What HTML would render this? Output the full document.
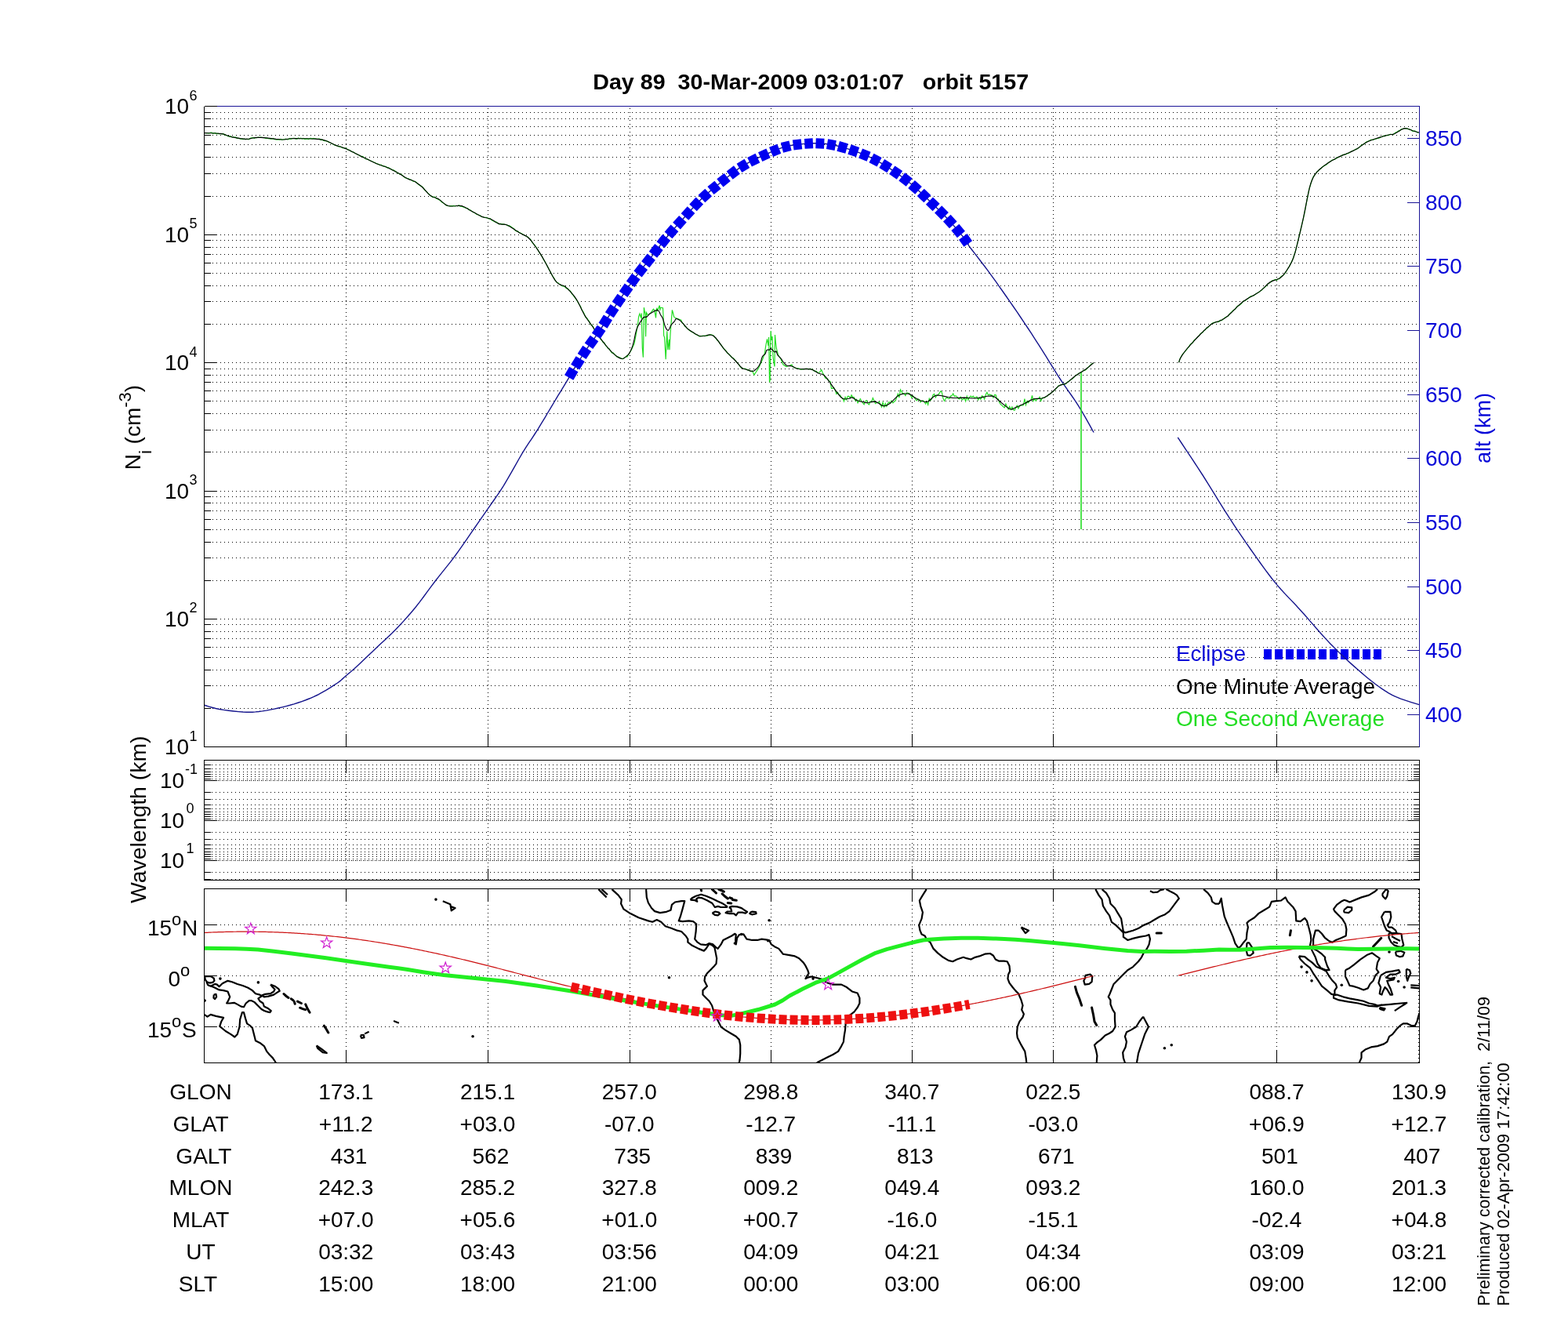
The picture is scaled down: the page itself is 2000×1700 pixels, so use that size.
<!DOCTYPE html><html><head><meta charset="utf-8"><title>Day 89 30-Mar-2009 orbit 5157</title>
<style>html,body{margin:0;padding:0;background:#fff;}svg{display:block;}text{font-family:'Liberation Sans', Arial, Helvetica, sans-serif;white-space:pre;}</style></head><body>
<svg width="2000" height="1700" viewBox="0 0 2000 1700">
<rect width="2000" height="1700" fill="#fff"/>
<text x="756.2" y="114" font-size="28" font-weight="bold" textLength="556" lengthAdjust="spacingAndGlyphs">Day 89  30-Mar-2009 03:01:07   orbit 5157</text>
<path d="M260.5,903.5 H1810.5 M260.5,874.5 H1810.5 M260.5,854.5 H1810.5 M260.5,838.5 H1810.5 M260.5,825.5 H1810.5 M260.5,814.5 H1810.5 M260.5,805.5 H1810.5 M260.5,796.5 H1810.5 M260.5,789.5 H1810.5 M260.5,740.5 H1810.5 M260.5,711.5 H1810.5 M260.5,691.5 H1810.5 M260.5,675.5 H1810.5 M260.5,662.5 H1810.5 M260.5,651.5 H1810.5 M260.5,641.5 H1810.5 M260.5,633.5 H1810.5 M260.5,626.5 H1810.5 M260.5,576.5 H1810.5 M260.5,548.5 H1810.5 M260.5,527.5 H1810.5 M260.5,511.5 H1810.5 M260.5,498.5 H1810.5 M260.5,487.5 H1810.5 M260.5,478.5 H1810.5 M260.5,470.5 H1810.5 M260.5,462.5 H1810.5 M260.5,413.5 H1810.5 M260.5,384.5 H1810.5 M260.5,364.5 H1810.5 M260.5,348.5 H1810.5 M260.5,335.5 H1810.5 M260.5,324.5 H1810.5 M260.5,315.5 H1810.5 M260.5,306.5 H1810.5 M260.5,299.5 H1810.5 M260.5,250.5 H1810.5 M260.5,221.5 H1810.5 M260.5,200.5 H1810.5 M260.5,184.5 H1810.5 M260.5,172.5 H1810.5 M260.5,161.5 H1810.5 M260.5,151.5 H1810.5 M260.5,143.5 H1810.5 M260.5,135.5 H1810.5" stroke="#000" stroke-width="1" stroke-dasharray="1 4" fill="none" shape-rendering="crispEdges"/>
<path d="M441.5,135.5 V952.5 M622.5,135.5 V952.5 M803.5,135.5 V952.5 M983.5,135.5 V952.5 M1163.5,135.5 V952.5 M1343.5,135.5 V952.5 M1628.5,135.5 V952.5" stroke="#000" stroke-width="1" stroke-dasharray="1 4" stroke-dashoffset="-2" fill="none" shape-rendering="crispEdges"/>
<path d="M260.5,952.5 h16 M260.5,903.5 h8 M260.5,874.5 h8 M260.5,854.5 h8 M260.5,838.5 h8 M260.5,825.5 h8 M260.5,814.5 h8 M260.5,805.5 h8 M260.5,796.5 h8 M260.5,789.5 h16 M260.5,740.5 h8 M260.5,711.5 h8 M260.5,691.5 h8 M260.5,675.5 h8 M260.5,662.5 h8 M260.5,651.5 h8 M260.5,641.5 h8 M260.5,633.5 h8 M260.5,626.5 h16 M260.5,576.5 h8 M260.5,548.5 h8 M260.5,527.5 h8 M260.5,511.5 h8 M260.5,498.5 h8 M260.5,487.5 h8 M260.5,478.5 h8 M260.5,470.5 h8 M260.5,462.5 h16 M260.5,413.5 h8 M260.5,384.5 h8 M260.5,364.5 h8 M260.5,348.5 h8 M260.5,335.5 h8 M260.5,324.5 h8 M260.5,315.5 h8 M260.5,306.5 h8 M260.5,299.5 h16 M260.5,250.5 h8 M260.5,221.5 h8 M260.5,200.5 h8 M260.5,184.5 h8 M260.5,172.5 h8 M260.5,161.5 h8 M260.5,151.5 h8 M260.5,143.5 h8 M260.5,135.5 h16 M441.5,952.5 V935.5 M622.5,952.5 V935.5 M803.5,952.5 V935.5 M983.5,952.5 V935.5 M1163.5,952.5 V935.5 M1343.5,952.5 V935.5 M1628.5,952.5 V935.5" stroke="#000" stroke-width="1" fill="none" shape-rendering="crispEdges"/>
<text x="1500" y="843" font-size="28" fill="#0808d8" textLength="89" lengthAdjust="spacingAndGlyphs">Eclipse</text>
<path d="M1612,834.5 H1762" stroke="#0000f0" stroke-width="13" stroke-dasharray="10 4" fill="none"/>
<text x="1500" y="885" font-size="28" textLength="254" lengthAdjust="spacingAndGlyphs">One Minute Average</text>
<text x="1500" y="926" font-size="28" fill="#22dd22" textLength="266" lengthAdjust="spacingAndGlyphs">One Second Average</text>
<path d="M260.5,899.25 L262.98,899.99 L266.39,901.06 L270.51,902.27 L275.12,903.48 L280,904.5 L285.49,905.38 L291.72,906.22 L298.22,906.97 L304.47,907.58 L310,908 L314.56,908.22 L318.48,908.28 L322.12,908.18 L325.84,907.92 L330,907.5 L334.68,906.89 L339.64,906.1 L344.76,905.15 L349.92,904.11 L355,903 L360,901.85 L365,900.62 L370,899.29 L375,897.84 L380,896.25 L385,894.54 L390,892.72 L395,890.77 L400,888.62 L405,886.25 L410.22,883.48 L415.67,880.33 L421.01,877.08 L425.9,873.96 L430,871.25 L433.05,869.08 L435.26,867.27 L437.06,865.62 L438.83,863.93 L441,862 L443.43,859.96 L445.86,857.96 L448.46,855.78 L451.45,853.2 L455,850 L459.3,846 L464.21,841.35 L469.47,836.31 L474.82,831.19 L480,826.25 L485,821.57 L490,816.95 L495,812.31 L500,807.52 L505,802.5 L510,797.26 L515,791.86 L520,786.28 L525,780.5 L530,774.5 L535,768.16 L540,761.51 L545,754.69 L550,747.89 L555,741.25 L560,734.87 L565,728.63 L570,722.42 L575,716.08 L580,709.5 L585.14,702.41 L590.42,694.89 L595.63,687.35 L600.56,680.17 L605,673.75 L608.72,668.41 L611.87,663.89 L614.78,659.7 L617.78,655.37 L621.2,650.4 L625.08,644.84 L629.19,639.02 L633.48,632.87 L637.9,626.32 L642.4,619.3 L647.09,611.47 L652,602.88 L656.98,594.04 L661.83,585.47 L666.4,577.7 L670.59,570.98 L674.52,564.97 L678.32,559.28 L682.13,553.51 L686.1,547.3 L690.29,540.48 L694.61,533.3 L698.95,526 L703.22,518.82 L707.3,512 L711.39,505.23 L715.57,498.34 L719.53,491.81 L723.01,486.08 L725.7,481.6 L727.16,479.1 L727.57,478.27 L727.62,478.04 L728.01,477.31 L729.4,475 L732.03,470.72 L735.43,465.2 L739.29,459.01 L743.25,452.75 L747,447 L750.53,441.86 L754.07,436.93 L757.62,432.07 L761.16,427.14 L764.7,422 L768.1,416.75 L771.36,411.5 L774.69,406.07 L778.3,400.29 L782.4,394 L787.22,386.84 L792.61,378.93 L798.24,370.79 L803.75,362.94 L808.8,355.9 L813.29,349.86 L817.46,344.46 L821.44,339.44 L825.37,334.51 L829.4,329.4 L833.47,324.12 L837.5,318.84 L841.55,313.56 L845.69,308.28 L850,303 L854.51,297.68 L859.19,292.34 L863.96,287 L868.75,281.71 L873.5,276.5 L878.15,271.36 L882.76,266.25 L887.38,261.22 L892.11,256.29 L897,251.5 L902.16,246.82 L907.53,242.24 L912.97,237.78 L918.34,233.49 L923.5,229.4 L928.3,225.55 L932.83,221.9 L937.31,218.42 L941.96,215.07 L947,211.8 L952.56,208.59 L958.51,205.46 L964.63,202.45 L970.7,199.62 L976.5,197 L981.95,194.56 L987.18,192.28 L992.34,190.2 L997.56,188.36 L1003,186.8 L1008.74,185.55 L1014.7,184.58 L1020.72,183.85 L1026.67,183.34 L1032.4,183 L1037.83,182.81 L1043.04,182.8 L1048.18,183 L1053.39,183.46 L1058.8,184.2 L1064.5,185.29 L1070.4,186.69 L1076.37,188.33 L1082.28,190.13 L1088,192 L1093.5,193.92 L1098.87,195.93 L1104.15,198.09 L1109.41,200.43 L1114.7,203 L1120.06,205.85 L1125.46,208.95 L1130.83,212.23 L1136.1,215.6 L1141.2,219 L1146.09,222.38 L1150.82,225.79 L1155.44,229.29 L1160.05,232.94 L1164.7,236.8 L1169.4,240.91 L1174.1,245.22 L1178.79,249.68 L1183.49,254.23 L1188.2,258.8 L1192.94,263.37 L1197.71,267.99 L1202.47,272.68 L1207.18,277.48 L1211.8,282.4 L1216.62,287.84 L1221.66,293.79 L1226.5,299.65 L1230.69,304.84 L1233.8,308.8 L1235.17,310.74 L1235.07,311.04 L1234.53,310.88 L1234.53,311.41 L1236.1,313.8 L1239.6,318.49 L1244.38,324.69 L1249.85,331.76 L1255.45,339.05 L1260.6,345.9 L1265.28,352.3 L1269.87,358.67 L1274.41,365.05 L1278.94,371.48 L1283.5,378 L1288.1,384.6 L1292.7,391.26 L1297.3,397.97 L1301.9,404.75 L1306.5,411.6 L1311.09,418.51 L1315.67,425.49 L1320.24,432.54 L1324.82,439.64 L1329.4,446.8 L1333.98,454.09 L1338.56,461.52 L1343.13,468.97 L1347.71,476.33 L1352.3,483.5 L1356.94,490.41 L1361.65,497.12 L1366.33,503.75 L1370.9,510.38 L1375.3,517.1 L1379.78,524.48 L1384.4,532.45 L1388.76,540.18 L1392.46,546.81 L1395.1,551.5 M1502.3,557.9 L1506.69,564.5 L1512.87,573.78 L1520.11,584.67 L1527.63,596.1 L1534.7,607 L1541.33,617.52 L1548.02,628.36 L1554.74,639.32 L1561.48,650.17 L1568.2,660.7 L1575.02,671.04 L1581.96,681.35 L1588.84,691.41 L1595.51,701 L1601.8,709.9 L1607.56,717.97 L1612.9,725.36 L1618.05,732.28 L1623.21,738.96 L1628.6,745.6 L1634.19,752.03 L1639.82,758.12 L1645.56,764.11 L1651.47,770.28 L1657.6,776.9 L1664.21,784.32 L1671.25,792.37 L1678.35,800.5 L1685.13,808.19 L1691.2,814.9 L1696.38,820.42 L1700.93,825.09 L1705.12,829.25 L1709.21,833.22 L1713.5,837.3 L1717.98,841.5 L1722.46,845.61 L1726.94,849.63 L1731.42,853.56 L1735.9,857.4 L1740.36,861.19 L1744.82,864.93 L1749.28,868.57 L1753.74,872.04 L1758.2,875.3 L1762.56,878.32 L1766.82,881.15 L1771.13,883.8 L1775.67,886.31 L1780.6,888.7 L1786.5,891.08 L1793.27,893.42 L1800.02,895.58 L1805.89,897.39 L1810,898.7" stroke="#14148c" stroke-width="1.4" fill="none"/>
<path d="M260.5,169.23 L262.1,169.71 L263.7,169.5 L265.3,169.88 L266.9,169.95 L268.5,169.22 L270.1,169.19 L271.7,170.4 L273.3,169.64 L274.9,169.66 L276.5,170.81 L278.1,170.2 L279.7,170.83 L281.3,170.44 L282.9,170.79 L284.5,170.48 L286.1,171.55 L287.7,172.47 L289.3,172.77 L290.9,173.63 L292.5,174.07 L294.1,173.62 L295.7,174.94 L297.3,175.04 L298.9,174.98 L300.5,174.9 L302.1,176.36 L303.7,176.1 L305.3,176.73 L306.9,177.22 L308.5,177.18 L310.1,177.65 L311.7,177.1 L313.3,177.8 L314.9,177.21 L316.5,177.8 L318.1,177.53 L319.7,176.07 L321.3,175.75 L322.9,175.58 L324.5,176.34 L326.1,175.44 L327.7,175.61 L329.3,175.1 L330.9,175.37 L332.5,175.21 L334.1,175.24 L335.7,175.65 L337.3,175.75 L338.9,176.37 L340.5,176.23 L342.1,176.75 L343.7,176.83 L345.3,177.21 L346.9,176.97 L348.5,176.46 L350.1,177.64 L351.7,177.99 L353.3,178.06 L354.9,177.73 L356.5,178.08 L358.1,177.52 L359.7,178.44 L361.3,178.01 L362.9,177.54 L364.5,177.03 L366.1,177.86 L367.7,177.83 L369.3,176.4 L370.9,177.23 L372.5,176.65 L374.1,176.25 L375.7,176.42 L377.3,177.06 L378.9,177.21 L380.5,176.05 L382.1,176.85 L383.7,176.06 L385.3,177.02 L386.9,176.5 L388.5,177.29 L390.1,177.46 L391.7,176.83 L393.3,177.56 L394.9,176.63 L396.5,176.35 L398.1,177.14 L399.7,176.42 L401.3,176.72 L402.9,177.11 L404.5,177.54 L406.1,177.04 L407.7,177.07 L409.3,178.46 L410.9,177.95 L412.5,179.24 L414.1,179.58 L415.7,179.39 L417.3,180.08 L418.9,180.86 L420.5,181.74 L422.1,182.45 L423.7,183.2 L425.3,184.07 L426.9,185.25 L428.5,185.38 L430.1,185.87 L431.7,186.8 L433.3,186.62 L434.9,187.16 L436.5,188.58 L438.1,188.54 L439.7,189.18 L441.3,189.06 L442.9,190.38 L444.5,191.36 L446.1,191.33 L447.7,192.92 L449.3,193.74 L450.9,193.74 L452.5,195.34 L454.1,195.92 L455.7,197.02 L457.3,197.36 L458.9,198.65 L460.5,199.49 L462.1,199.28 L463.7,200.13 L465.3,201.78 L466.9,202.96 L468.5,202.75 L470.1,203.82 L471.7,204.79 L473.3,205.19 L474.9,206.03 L476.5,206.7 L478.1,207.5 L479.7,208.54 L481.3,208.83 L482.9,209.53 L484.5,210.68 L486.1,210.21 L487.7,211.48 L489.3,212.22 L490.9,212.17 L492.5,212.66 L494.1,214.08 L495.7,213.97 L497.3,214.68 L498.9,215.81 L500.5,216.95 L502.1,216.97 L503.7,218.14 L505.3,219.01 L506.9,220.58 L508.5,220.92 L510.1,222.4 L511.7,222.38 L513.3,223.63 L514.9,225.14 L516.5,226.62 L518.1,226.99 L519.7,227.5 L521.3,228.01 L522.9,229.18 L524.5,229.25 L526.1,230.72 L527.7,231.49 L529.3,231.35 L530.9,232.48 L532.5,234.25 L534.1,235.21 L535.7,236.63 L537.3,237.34 L538.9,238.4 L540.5,240.3 L542.1,242.7 L543.7,243.82 L545.3,245.79 L546.9,247.49 L548.5,249.01 L550.1,250.03 L551.7,251.55 L553.3,251.07 L554.9,251.32 L556.5,253.19 L558.1,253.76 L559.7,254.81 L561.3,255.23 L562.9,257.21 L564.5,258.57 L566.1,258.93 L567.7,260.81 L569.3,261.99 L570.9,262.39 L572.5,262.62 L574.1,262.55 L575.7,262.71 L577.3,262.6 L578.9,262.27 L580.5,262.9 L582.1,262.31 L583.7,262.87 L585.3,261.7 L586.9,263.02 L588.5,262.84 L590.1,263.64 L591.7,264.25 L593.3,264.98 L594.9,265.48 L596.5,265.65 L598.1,267.62 L599.7,267.77 L601.3,268.89 L602.9,270.27 L604.5,270.96 L606.1,271.69 L607.7,273.3 L609.3,273.72 L610.9,274.2 L612.5,274.85 L614.1,276.47 L615.7,276.58 L617.3,277.49 L618.9,277.33 L620.5,277.39 L622.1,278.19 L623.7,279.06 L625.3,278.7 L626.9,280.42 L628.5,281.46 L630.1,282.24 L631.7,283.25 L633.3,283.06 L634.9,284.73 L636.5,285.86 L638.1,285.15 L639.7,285.73 L641.3,285.82 L642.9,286.17 L644.5,286.29 L646.1,286.75 L647.7,287.78 L649.3,287.6 L650.9,288.58 L652.5,289.66 L654.1,290.74 L655.7,291.74 L657.3,294.08 L658.9,294.96 L660.5,294.94 L662.1,296.55 L663.7,297.12 L665.3,297.95 L666.9,298.81 L668.5,300 L670.1,300.68 L671.7,301.41 L673.3,302.24 L674.9,303.89 L676.5,305.25 L678.1,307.85 L679.7,310.2 L681.3,311.99 L682.9,313.84 L684.5,316.24 L686.1,318.82 L687.7,321.54 L689.3,324.26 L690.9,326.27 L692.5,329.58 L694.1,332.15 L695.7,334.82 L697.3,337.72 L698.9,340.88 L700.5,344.28 L702.1,346.75 L703.7,350.33 L705.3,352.9 L706.9,355.13 L708.5,358.03 L710.1,360.24 L711.7,360.46 L713.3,362.31 L714.9,363.05 L716.5,364.54 L718.1,365.1 L719.7,364.74 L721.3,366.74 L722.9,367.88 L724.5,368.3 L726.1,370.33 L727.7,371.38 L729.3,374.57 L730.9,376.2 L732.5,378.66 L734.1,380.69 L735.7,382.93 L737.3,385.75 L738.9,388.54 L740.5,390.86 L742.1,395.21 L743.7,397.23 L745.3,400.55 L746.9,404.47 L748.5,405.44 L750.1,407.83 L751.7,410.02 L753.3,413.76 L754.9,414.56 L756.5,416.5 L758.1,420.56 L759.7,421.57 L761.3,425.5 L762.9,427.57 L764.5,430.24 L766.1,432.69 L767.7,434.11 L769.3,436.65 L770.9,437.18 L772.5,440.65 L774.1,442.07 L775.7,444.38 L777.3,444.97 L778.9,448 L780.5,450.01 L782.1,449.77 L783.7,451.7 L785.3,453.44 L786.9,455.2 L788.5,455.05 L790.1,455.92 L791.7,456.59 L793.3,457.67 L794.9,457.59 L796.5,456.12 L798.1,454.97 L799.7,453.65 L800,455.2 L805.3,446.2 L809,438.2 L811.1,427.6 L813.8,411.8 L814.6,403.8 L815.9,400.1 L817.5,405.4 L818.3,399.6 L819.3,443.5 L820.4,455.7 L821.2,411.8 L821.4,392.2 L822.2,396.9 L823.3,401.2 L823.6,429.2 L824.4,398.5 L826.5,402.2 L829.6,399.6 L833.4,394.3 L834.9,395.9 L836.5,405.4 L837.6,392.7 L838.6,395.9 L841.3,389.5 L841.8,395.9 L842.4,392.2 L845.5,392.7 L846.1,403.8 L846.6,427.6 L847.6,430.3 L849.2,458.3 L850.3,432.9 L850.8,422.4 L851.9,446.2 L853.5,432.9 L854,446.2 L855.1,425 L856.1,411.8 L857.4,395.4 L858.2,398 L859.8,404.4 L862.5,405.9 L868.8,408.1 L870.1,411.79 L871.7,412.76 L873.3,415.78 L874.9,416.92 L876.5,418.89 L878.1,419.99 L879.7,421.62 L881.3,422.7 L882.9,423.38 L884.5,424.28 L886.1,425.63 L887.7,426.75 L889.3,426.96 L890.9,428.27 L892.5,429.08 L894.1,428.73 L895.7,428.37 L897.3,428.21 L898.9,428.61 L900.5,428.22 L902.1,428.17 L903.7,427.64 L905.3,426.68 L906.9,426.76 L908.5,427.29 L910.1,428.02 L911.7,430.1 L913.3,431.88 L914.9,433.97 L916.5,435.1 L918.1,438.21 L919.7,439.71 L921.3,442.07 L922.9,444.58 L924.5,445.77 L926.1,447.59 L927.7,450.33 L929.3,451.26 L930.9,452.9 L932.5,454.75 L934.1,456.42 L935.7,457.05 L937.3,459.08 L938.9,460.94 L940.5,462.83 L942.1,464.34 L943.7,466.8 L945.3,468.93 L946.9,469.38 L948.5,470.41 L950.1,470.22 L951.7,470.81 L953.3,471.89 L954.9,471.67 L956.5,473.28 L958.1,473.75 L959.7,472.88 L960,474 L962,478 L967.5,469.5 L973,457.5 L975.5,450 L976.5,442.5 L977.5,437 L978.5,432.5 L980,441 L980.5,430 L981,452.5 L981.5,487.5 L982.2,485 L982.8,435 L983.2,422 L984,434 L985,429 L986,455 L987,462.5 L988,467.5 L988.5,427 L989.5,437.5 L990.5,445 L992.5,452.5 L996,458 L999,465 L1003,467.5 L1007.5,466 L1010,465 L1010.9,467.5 L1012.5,468.39 L1014.1,468.98 L1015.7,469.48 L1017.3,469.82 L1018.9,469.95 L1020.5,470.94 L1022.1,471.07 L1023.7,470.71 L1025.3,470.93 L1026.9,470.35 L1028.5,470.19 L1030.1,470.34 L1031.7,471.11 L1033.3,470.12 L1034.9,471.15 L1036.5,471.4 L1038.1,472.96 L1039.7,473.31 L1041.3,473.43 L1042.9,475.65 L1044.5,475.22 L1046.1,474.18 L1047.7,471.5 L1049.3,475.59 L1050.9,477.91 L1052.5,482.07 L1054.1,482.44 L1055.7,483.28 L1057.3,486.24 L1058.9,486.26 L1060.5,495.32 L1062.1,495.33 L1063.7,494.36 L1065.3,497.85 L1066.9,502.52 L1068.5,500.31 L1070.1,503.56 L1071.7,504.1 L1073.3,507.08 L1074.9,508.09 L1076.5,511.92 L1078.1,506.47 L1079.7,509.82 L1081.3,505.4 L1082.9,505.3 L1084.5,507.78 L1086.1,503.87 L1087.7,506.32 L1089.3,506.5 L1090.9,510.66 L1092.5,509.19 L1094.1,513.73 L1095.7,511.08 L1097.3,508.72 L1098.9,511.55 L1100.5,513.9 L1102.1,515.87 L1103.7,511.53 L1105.3,510.53 L1106.9,514.65 L1108.5,515.95 L1110.1,512.05 L1111.7,512.77 L1113.3,507.6 L1114.9,510.68 L1116.5,514.65 L1118.1,513.75 L1119.7,513.75 L1121.3,512.4 L1122.9,515.47 L1124.5,518.96 L1126.1,513.25 L1127.7,519.05 L1129.3,514.52 L1130.9,518.17 L1132.5,514.16 L1134.1,512.63 L1135.7,514.51 L1137.3,511.27 L1138.9,513.87 L1140.5,512.3 L1142.1,511.06 L1143.7,507 L1145.3,502.41 L1146.9,507.03 L1148.5,497.03 L1150.1,499.61 L1151.7,502.19 L1153.3,502.14 L1154.9,504.57 L1156.5,500.99 L1158.1,501.26 L1159.7,501.78 L1161.3,504.07 L1162.9,507.24 L1164.5,504.98 L1166.1,506.91 L1167.7,509.4 L1169.3,510.79 L1170.9,508.78 L1172.5,509.39 L1174.1,512.84 L1175.7,511.04 L1177.3,510.84 L1178.9,512.22 L1180.5,515.11 L1182.1,512.34 L1183.7,516.26 L1185.3,508.17 L1186.9,510.45 L1188.5,508.63 L1190.1,503.68 L1191.7,502.39 L1193.3,506.79 L1194.9,504.25 L1196.5,503.46 L1198.1,501.73 L1199.7,498.97 L1201.3,500.1 L1202.9,507.87 L1204.5,511.52 L1206.1,508.77 L1207.7,506.55 L1209.3,508.32 L1210.9,508.63 L1212.5,505.05 L1214.1,504.61 L1215.7,501.95 L1217.3,505.54 L1218.9,504.85 L1220.5,505.72 L1222.1,508.16 L1223.7,509.03 L1225.3,506.31 L1226.9,509.92 L1228.5,509.25 L1230.1,507.46 L1231.7,511.78 L1233.3,505.45 L1234.9,510.25 L1236.5,506.81 L1238.1,505.05 L1239.7,506.37 L1241.3,505.19 L1242.9,507.6 L1244.5,506.87 L1246.1,505.99 L1247.7,509.99 L1249.3,507.08 L1250.9,509.29 L1252.5,504.76 L1254.1,505.8 L1255.7,509.12 L1257.3,503.24 L1258.9,500.31 L1260.5,503.88 L1262.1,502.99 L1263.7,503.56 L1265.3,503.95 L1266.9,507.16 L1268.5,503.69 L1270.1,503.65 L1271.7,508.59 L1273.3,508.74 L1274.9,513.55 L1276.5,515.81 L1278.1,517.08 L1279.7,518.73 L1281.3,519.75 L1282.9,515.12 L1284.5,518.51 L1286.1,522.01 L1287.7,518.57 L1289.3,522.16 L1290.9,519 L1292.5,522.82 L1294.1,523.32 L1295.7,519.66 L1297.3,517.26 L1298.9,520.84 L1300.5,518.2 L1302.1,516.51 L1303.7,517.19 L1305.3,516.78 L1306.9,508.58 L1308.5,516.38 L1310.1,511.28 L1311.7,513.68 L1313.3,511.21 L1314.9,510.63 L1316.5,504.5 L1318.1,511.49 L1319.7,508.38 L1321.3,511.14 L1322.9,508.95 L1324.5,508.49 L1326.1,506.39 L1327.7,511.36 L1329.3,507.42 L1330.9,507.3 L1332.5,507.1 L1334.1,505.73 L1335.7,505.49 L1337.3,503.31 L1338.9,502.4 L1340.5,501.47 L1342.1,499.87 L1343.7,499.03 L1345.3,497.37 L1346.9,495.89 L1348.5,494.01 L1350.1,491.84 L1351.7,491.63 L1353.3,490.92 L1354.9,490.41 L1356.5,489.83 L1358.1,489.85 L1359.7,489.5 L1361.3,487.27 L1362.9,486.86 L1364.5,485.17 L1366.1,483.98 L1367.7,483.12 L1369.3,481.89 L1370.9,480.15 L1372.5,478.28 L1374.1,478.27 L1375.7,476.2 L1377.3,475.51 L1378.9,475.2 L1380.5,473.55 L1382.1,472.46 L1383.7,472.38 L1385.3,471.21 L1386.9,469.08 L1388.5,467.93 L1390.1,466.4 L1391.7,464.82 L1393.3,463.61 L1394.9,463.25 M1503.7,461.91 L1505.3,457.07 L1506.9,454.21 L1508.5,451.56 L1510.1,449.84 L1511.7,448.05 L1513.3,446.12 L1514.9,443.95 L1516.5,442.34 L1518.1,439.38 L1519.7,438.01 L1521.3,437.2 L1522.9,434.22 L1524.5,432.82 L1526.1,431.44 L1527.7,429.47 L1529.3,428.23 L1530.9,425.9 L1532.5,424.53 L1534.1,423.95 L1535.7,421.25 L1537.3,420.76 L1538.9,418.17 L1540.5,417.91 L1542.1,416.1 L1543.7,414.69 L1545.3,412.86 L1546.9,411.85 L1548.5,411.95 L1550.1,410.68 L1551.7,410.26 L1553.3,410.61 L1554.9,410.13 L1556.5,408.25 L1558.1,408.76 L1559.7,407.3 L1561.3,406.21 L1562.9,404.73 L1564.5,403.95 L1566.1,403.59 L1567.7,401.09 L1569.3,399.37 L1570.9,397.89 L1572.5,396.3 L1574.1,395.01 L1575.7,394.2 L1577.3,391.42 L1578.9,390.03 L1580.5,389.66 L1582.1,388.33 L1583.7,386.89 L1585.3,384.44 L1586.9,383.56 L1588.5,383.36 L1590.1,381.67 L1591.7,380.93 L1593.3,379.42 L1594.9,378.13 L1596.5,377.7 L1598.1,377.39 L1599.7,376.55 L1601.3,375.3 L1602.9,374.18 L1604.5,373.3 L1606.1,372.19 L1607.7,371.08 L1609.3,370.11 L1610.9,367.83 L1612.5,366.84 L1614.1,365.63 L1615.7,363.85 L1617.3,361.54 L1618.9,361.25 L1620.5,360.05 L1622.1,358.36 L1623.7,357.75 L1625.3,357.11 L1626.9,356.42 L1628.5,357.22 L1630.1,355.69 L1631.7,355.59 L1633.3,353.49 L1634.9,352 L1636.5,351.59 L1638.1,349.62 L1639.7,347.69 L1641.3,344.95 L1642.9,342.24 L1644.5,339.98 L1646.1,336.17 L1647.7,333.6 L1649.3,329.83 L1650.9,324.75 L1652.5,319.98 L1654.1,313.3 L1655.7,306.96 L1657.3,300.22 L1658.9,293.49 L1660.5,286.69 L1662.1,279.8 L1663.7,272.59 L1665.3,264.44 L1666.9,255.98 L1668.5,248.11 L1670.1,240.22 L1671.7,235.23 L1673.3,229.88 L1674.9,226.07 L1676.5,223.73 L1678.1,221.77 L1679.7,219.18 L1681.3,218.04 L1682.9,215.97 L1684.5,215.54 L1686.1,213.51 L1687.7,212.24 L1689.3,211.14 L1690.9,210.46 L1692.5,209.45 L1694.1,207.78 L1695.7,206.64 L1697.3,205.86 L1698.9,204.17 L1700.5,203.77 L1702.1,203.46 L1703.7,202.5 L1705.3,200.67 L1706.9,200.96 L1708.5,199.54 L1710.1,199.67 L1711.7,198.1 L1713.3,197.25 L1714.9,197.11 L1716.5,196.96 L1718.1,195.68 L1719.7,195.64 L1721.3,194.73 L1722.9,193.51 L1724.5,192.69 L1726.1,192.19 L1727.7,191.26 L1729.3,190.33 L1730.9,189.83 L1732.5,189.11 L1734.1,187.63 L1735.7,185.92 L1737.3,184.86 L1738.9,183.92 L1740.5,183.2 L1742.1,181.57 L1743.7,180.52 L1745.3,180.08 L1746.9,179.34 L1748.5,178.3 L1750.1,178.42 L1751.7,178.41 L1753.3,177.33 L1754.9,177.08 L1756.5,176.71 L1758.1,176.22 L1759.7,175.83 L1761.3,174.68 L1762.9,174.53 L1764.5,173.28 L1766.1,173.9 L1767.7,172.76 L1769.3,172.48 L1770.9,172.65 L1772.5,171.45 L1774.1,171.09 L1775.7,171.88 L1777.3,171.2 L1778.9,169.88 L1780.5,168.86 L1782.1,168.37 L1783.7,166.87 L1785.3,167 L1786.9,165.06 L1788.5,164.49 L1790.1,163.99 L1791.7,163.64 L1793.3,163.67 L1794.9,164.09 L1796.5,164.69 L1798.1,165.04 L1799.7,165.23 L1801.3,167.14 L1802.9,167.29 L1804.5,166.9 L1806.1,167.85 L1807.7,168.72 L1809.3,169.5" stroke="#22dd22" stroke-width="1.2" fill="none"/>
<path d="M1379,474 V675" stroke="#22dd22" stroke-width="1.6" fill="none"/>
<path d="M260.5,169.6 L266.8,169.77 L275.59,170.05 L283,170.6 L286.89,171.56 L289.39,172.78 L293,174 L299.22,175.33 L306.56,176.65 L313,177.4 L317.59,177.12 L321.3,176.26 L325,175.6 L328.63,175.38 L332.26,175.36 L337,175.6 L343.96,176.36 L352.04,177.38 L359,178 L363.44,177.82 L366.78,177.24 L371,176.8 L377.22,176.68 L384.33,176.7 L391,176.8 L396.85,176.95 L402.26,177.19 L407,177.6 L410.7,178.16 L413.74,178.9 L417,180 L420.85,181.69 L424.93,183.73 L429,185.6 L432.63,186.8 L436.26,187.82 L441,189.6 L447.74,192.78 L455.59,196.71 L463,200.4 L469.44,203.56 L475.44,206.48 L481,209 L485.89,210.81 L490.33,212.21 L495,214 L500.48,216.67 L506.19,219.71 L511,222.4 L514.19,224.41 L516.48,226.07 L519,227.6 L522.19,228.9 L525.59,230.06 L529,231.6 L532.33,233.7 L535.67,236.17 L539,239 L542.33,242.54 L545.67,246.44 L549,249.6 L552.33,251.28 L555.67,252.23 L559,253.6 L562.41,256.15 L565.81,259.12 L569,261.4 L571.67,262.47 L574.11,262.84 L577,263 L580.7,262.76 L584.85,262.3 L589,262.6 L592.93,264.19 L596.85,266.54 L601,269 L605.67,271.57 L610.56,274.25 L615,276.4 L618.56,277.47 L621.67,278.01 L625,279 L628.93,281.1 L633.07,283.64 L637,285.6 L640.3,286.15 L643.37,286.13 L647,287 L651.75,289.68 L657.05,293.26 L662,296.5 L666.28,298.72 L670.21,300.61 L673.8,303 L676.95,306.24 L679.77,309.99 L682.6,314 L685.56,318.19 L688.54,322.64 L691.5,327.4 L694.5,332.67 L697.48,338.24 L700.3,343.5 L702.9,348.42 L705.33,353.03 L707.6,356.8 L709.61,359.39 L711.47,361.15 L713.5,362.6 L715.8,363.59 L718.27,364.27 L720.9,365.6 L723.79,368.05 L726.83,371.14 L729.7,374.4 L732.19,377.45 L734.5,380.66 L737,384.7 L739.8,390.17 L742.77,396.46 L745.9,402.4 L749.29,407.54 L752.83,412.34 L756.2,417 L759.19,421.53 L762.01,425.92 L765,430.3 L768.38,434.87 L771.92,439.42 L775.3,443.5 L778.34,446.93 L781.21,449.87 L784.1,452.4 L787.13,454.71 L790.17,456.61 L793,457.5 L795.58,456.94 L797.94,455.37 L800,453.6 L801.66,451.85 L803.01,449.89 L804.2,447.8 L805.23,445.62 L806.1,443.32 L806.9,440.9 L807.66,438.31 L808.36,435.6 L809,432.9 L809.55,430.22 L810.05,427.56 L810.6,425 L811.24,422.57 L811.94,420.24 L812.7,418.1 L813.54,416.19 L814.45,414.46 L815.4,412.8 L816.42,411.14 L817.48,409.56 L818.5,408.1 L819.39,406.73 L820.24,405.5 L821.2,404.6 L822.38,404.32 L823.67,404.38 L824.9,404.1 L825.99,403.1 L827.01,401.77 L828.1,400.6 L829.2,399.83 L830.36,399.22 L831.8,398.5 L833.84,397.35 L836.17,396.09 L838.1,395.4 L839.31,395.66 L840.11,396.49 L840.8,397.5 L841.36,398.56 L841.8,399.79 L842.4,401.2 L843.32,402.65 L844.4,404.28 L845.5,406.5 L846.54,409.88 L847.59,413.84 L848.7,417.1 L849.9,419.39 L851.15,420.96 L852.4,421.3 L853.61,419.74 L854.82,416.96 L856.1,414.4 L857.57,412.58 L859.11,411 L860.4,409.6 L861.14,408.23 L861.64,407.05 L862.5,406.5 L863.99,406.79 L865.84,407.7 L867.8,409.1 L869.9,411.18 L872.12,413.74 L874.1,416 L875.34,417.47 L876.35,418.63 L878.3,420.2 L882.11,422.8 L886.87,425.81 L891,428 L893.72,428.78 L895.8,428.75 L898,428.5 L900.63,427.94 L903.37,427.17 L906,427 L908.22,427.48 L910.33,428.57 L913,431 L916.59,435.56 L920.74,441.44 L925,447 L929.44,451.7 L934,456.07 L938,460 L941.11,463.55 L943.67,466.65 L946,469 L948.07,470.23 L949.93,470.71 L952,471.2 L954.67,472.14 L957.56,473.09 L960,473.5 L961.67,473.04 L962.89,472.05 L964,471 L965.07,470.13 L966.04,469.2 L967,468 L968.02,466.44 L969.04,464.61 L970,462.5 L970.83,459.83 L971.61,456.89 L972.5,454.5 L973.65,453.2 L974.91,452.46 L976,451.5 L976.7,449.81 L977.24,447.91 L978,446.5 L979.29,446.04 L980.8,446.07 L982,446 L982.47,445.35 L982.64,444.59 L983.2,444.5 L984.64,445.76 L986.47,447.69 L988,449 L988.87,448.85 L989.44,448.09 L990,448 L990.59,449.26 L991.19,451.19 L992,453 L993.22,454.39 L994.67,455.67 L996,457 L997.06,458.48 L998,460.02 L999,461.5 L1000.17,462.98 L1001.39,464.41 L1002.5,465.5 L1003.31,466.07 L1004.02,466.31 L1005,466.5 L1006.37,466.59 L1008.02,466.63 L1010,467 L1012.3,468.07 L1014.93,469.48 L1018,470.5 L1021.93,470.72 L1026.3,470.56 L1030,470.5 L1032.37,470.63 L1034.07,470.87 L1036,471.5 L1038.56,472.81 L1041.33,474.52 L1044,476 L1046.41,476.76 L1048.7,477.3 L1051,478.5 L1053.52,481.1 L1056.04,484.37 L1058,487 L1058.85,488.1 L1059.15,488.56 L1060,489.8 L1061.94,492.59 L1064.43,496.16 L1067,499.6 L1069.49,502.9 L1072.06,506.09 L1074.7,508.3 L1077.63,509 L1080.64,508.73 L1083.1,508.3 L1084.5,507.74 L1085.36,507.03 L1086.6,506.9 L1088.73,507.9 L1091.24,509.49 L1093.6,510.8 L1095.54,511.45 L1097.33,511.83 L1099.2,512.2 L1101.14,512.77 L1103.17,513.34 L1105.5,513.6 L1108.48,513.24 L1111.77,512.56 L1114.6,512.2 L1116.52,512.38 L1117.97,512.87 L1119.5,513.6 L1121.34,514.73 L1123.26,516.09 L1125.1,517.1 L1126.71,517.61 L1128.24,517.77 L1130,517.4 L1132.18,516.35 L1134.59,514.76 L1137,512.9 L1139.33,510.62 L1141.67,508.07 L1144,505.9 L1146.28,504.34 L1148.56,503.18 L1151,502.4 L1153.8,502.01 L1156.76,502.01 L1159.4,502.4 L1161.42,503.28 L1163.13,504.55 L1165,505.9 L1167.23,507.33 L1169.61,508.83 L1172,510.1 L1174.44,511.03 L1176.87,511.73 L1179,512.2 L1180.61,512.47 L1181.9,512.51 L1183.2,512.2 L1184.55,511.42 L1185.9,510.28 L1187.4,509 L1189.11,507.43 L1190.98,505.71 L1193,504.5 L1194.94,504.06 L1197.04,504.12 L1200,504.5 L1204.31,505.37 L1209.47,506.56 L1214.7,507.4 L1219.76,507.53 L1224.88,507.31 L1230,507.2 L1234.93,507.54 L1239.86,507.99 L1245.3,508 L1251.93,506.86 L1259.08,505.29 L1265.2,504.9 L1269.39,506.58 L1272.56,509.45 L1275.9,512.5 L1280.08,515.84 L1284.43,519.37 L1288.1,521.7 L1290.36,522.14 L1291.93,521.39 L1294.2,520.2 L1297.84,518.71 L1302.18,516.8 L1306.5,514.8 L1310.63,512.62 L1314.75,510.36 L1318.7,508.7 L1322.38,508.27 L1325.89,508.44 L1329.4,508 L1332.97,506.48 L1336.53,504.34 L1340.1,501.8 L1343.72,498.52 L1347.34,494.83 L1350.8,491.9 L1353.87,490.61 L1356.77,490.09 L1360,488.8 L1363.84,485.92 L1368.02,482.28 L1372.2,478.9 L1376.32,476.24 L1380.44,473.84 L1384.4,471.3 L1388.47,468.1 L1392.38,464.76 L1395.1,462.4 M1503.7,462.5 L1503.96,461.28 L1504.41,459.44 L1505.5,457 L1507.32,453.93 L1509.77,450.24 L1513,446 L1517.22,441.04 L1522.22,435.53 L1527.5,430 L1533.21,424.17 L1539.21,418.33 L1544.5,413.8 L1548.53,411.57 L1551.86,410.66 L1555.2,409.5 L1558.48,407.93 L1561.77,406.11 L1566,403 L1571.73,397.6 L1578.4,390.91 L1585.3,384.8 L1592.59,380.07 L1600.12,375.93 L1606.7,371.9 L1611.63,367.61 L1615.61,363.44 L1619.6,360 L1624.06,357.91 L1628.52,356.55 L1632.5,354.7 L1635.69,352.03 L1638.39,348.86 L1641.1,345 L1644.05,340.42 L1647,335.14 L1649.7,329 L1651.99,321.83 L1654.04,313.8 L1656.1,305.3 L1658.26,296.47 L1660.44,287.17 L1662.6,277.4 L1664.82,266.35 L1667.03,254.82 L1669,245.2 L1670.51,238.77 L1671.79,234.25 L1673.3,230.2 L1675.04,226.29 L1677.01,222.84 L1679.7,219.4 L1683.44,215.75 L1687.9,212.11 L1692.6,208.7 L1697.52,205.56 L1702.68,202.64 L1707.6,200.1 L1712.13,198.09 L1716.43,196.45 L1720.5,194.8 L1724.18,193.13 L1727.62,191.44 L1731.3,189.4 L1735.37,186.65 L1739.67,183.55 L1744.2,180.8 L1749.12,178.7 L1754.28,176.95 L1759.2,175.4 L1763.9,173.97 L1768.36,172.75 L1772.1,171.8 L1774.47,171.47 L1776.13,171.42 L1778.5,170.7 L1782.4,168.4 L1787.02,165.43 L1791.4,163.6 L1795.23,163.94 L1798.82,165.43 L1802.1,166.8 L1805.23,167.69 L1808.06,168.47 L1810,169" stroke="#000" stroke-width="1.15" fill="none"/>
<path d="M725.7,481.6 L731.82,471.07 M733.67,468.06 L740.2,457.56 M742.13,454.51 L748.77,444.4 M750.98,441.23 L758.06,431.46 M760.27,428.39 L767.13,418.28 M769.06,415.23 L775.46,404.83 M777.36,401.78 L784.02,391.58 M786.07,388.53 L792.93,378.46 M795.13,375.28 L802.1,365.28 M804.19,362.33 L811.34,352.46 M813.54,349.53 L820.95,340.05 M823.24,337.18 L830.8,327.6 M832.95,324.8 L840.44,315 M842.61,312.2 L850.17,302.8 M852.54,299.98 L860.49,290.88 M863.02,288.05 L870.99,279.25 M873.5,276.5 L881.57,267.56 M884.01,264.87 L892.37,256.03 M894.94,253.48 L903.69,245.49 M906.54,243.06 L915.59,235.68 M918.42,233.43 L927.73,226 M930.7,223.6 L939.91,216.52 M943,214.37 L952.92,208.4 M956.05,206.73 L966.43,201.6 M969.69,200.08 L980.06,195.41 M983.51,193.87 L993.82,189.65 M997.47,188.39 L1008.04,185.69 M1011.7,185.04 L1022.46,183.68 M1026.28,183.37 L1036.94,182.83 M1040.5,182.79 L1051.26,183.25 M1055.02,183.66 L1065.69,185.55 M1069.16,186.38 L1080.07,189.44 M1083.49,190.52 L1094.1,194.14 M1097.59,195.44 L1108.1,199.82 M1111.51,201.43 L1121.63,206.74 M1124.78,208.56 L1134.79,214.76 M1137.81,216.74 L1147.5,223.38 M1150.34,225.44 L1159.75,232.7 M1162.56,235 L1171.55,242.87 M1174.29,245.41 L1182.91,253.66 M1185.45,256.14 L1194.13,264.52 M1196.66,266.97 L1205.3,275.54 M1207.78,278.1 L1215.79,286.89 M1218.36,289.88 L1225.95,298.97 M1228.3,301.87 L1234.79,310.94" stroke="#0000f0" stroke-width="13" fill="none"/>
<path d="M260.5,135.5 V952.5 H1810.5" stroke="#000" stroke-width="1" fill="none" shape-rendering="crispEdges"/>
<path d="M260.5,135.5 H1810.5 V952.5" stroke="#1a1496" stroke-width="1" fill="none" shape-rendering="crispEdges"/>
<path d="M260.5,135.5 h16" stroke="#000" stroke-width="1.4" fill="none" shape-rendering="crispEdges"/>
<path d="M1810.5,911.5 h-16 M1810.5,829.5 h-16 M1810.5,748.5 h-16 M1810.5,666.5 h-16 M1810.5,584.5 h-16 M1810.5,503.5 h-16 M1810.5,421.5 h-16 M1810.5,339.5 h-16 M1810.5,258.5 h-16 M1810.5,176.5 h-16" stroke="#1a1496" stroke-width="1" fill="none" shape-rendering="crispEdges"/>
<text x="1818" y="920.5" font-size="28" fill="#0808d8">400</text>
<text x="1818" y="838.5" font-size="28" fill="#0808d8">450</text>
<text x="1818" y="757.5" font-size="28" fill="#0808d8">500</text>
<text x="1818" y="675.5" font-size="28" fill="#0808d8">550</text>
<text x="1818" y="593.5" font-size="28" fill="#0808d8">600</text>
<text x="1818" y="512.5" font-size="28" fill="#0808d8">650</text>
<text x="1818" y="430.5" font-size="28" fill="#0808d8">700</text>
<text x="1818" y="348.5" font-size="28" fill="#0808d8">750</text>
<text x="1818" y="267.5" font-size="28" fill="#0808d8">800</text>
<text x="1818" y="185.5" font-size="28" fill="#0808d8">850</text>
<text x="210" y="962.3" font-size="28">10</text>
<text x="241.5" y="944.8" font-size="18">1</text>
<text x="210" y="798.9" font-size="28">10</text>
<text x="241.5" y="781.4" font-size="18">2</text>
<text x="210" y="635.5" font-size="28">10</text>
<text x="241.5" y="618" font-size="18">3</text>
<text x="210" y="472.1" font-size="28">10</text>
<text x="241.5" y="454.6" font-size="18">4</text>
<text x="210" y="308.7" font-size="28">10</text>
<text x="241.5" y="291.2" font-size="18">5</text>
<text x="210" y="145.3" font-size="28">10</text>
<text x="241.5" y="127.8" font-size="18">6</text>
<text transform="translate(179,599.3) rotate(-90)" font-size="28">N<tspan font-size="22" dy="13.8">i</tspan><tspan dy="-13.8"> (cm</tspan><tspan font-size="22" dy="-12.2">-3</tspan><tspan dy="12.2">)</tspan></text>
<text transform="translate(1901,591) rotate(-90)" font-size="28" fill="#0808d8" textLength="90" lengthAdjust="spacingAndGlyphs">alt (km)</text>
<path d="M260.5,975.5 H1810.5 M260.5,980.5 H1810.5 M260.5,984.5 H1810.5 M260.5,987.5 H1810.5 M260.5,990.5 H1810.5 M260.5,993.5 H1810.5 M260.5,995.5 H1810.5 M260.5,1010.5 H1810.5 M260.5,1019.5 H1810.5 M260.5,1026.5 H1810.5 M260.5,1031.5 H1810.5 M260.5,1035.5 H1810.5 M260.5,1038.5 H1810.5 M260.5,1041.5 H1810.5 M260.5,1044.5 H1810.5 M260.5,1046.5 H1810.5 M260.5,1061.5 H1810.5 M260.5,1070.5 H1810.5 M260.5,1077.5 H1810.5 M260.5,1082.5 H1810.5 M260.5,1086.5 H1810.5 M260.5,1089.5 H1810.5 M260.5,1092.5 H1810.5 M260.5,1095.5 H1810.5 M260.5,1097.5 H1810.5 M260.5,1112.5 H1810.5 M260.5,1121.5 H1810.5" stroke="#000" stroke-width="1" stroke-dasharray="1 4" stroke-dashoffset="1" fill="none" shape-rendering="crispEdges"/>
<path d="M260.5,995.5 H1810.5 M260.5,1046.5 H1810.5 M260.5,1097.5 H1810.5" stroke="#000" stroke-width="1" stroke-dasharray="1 4" stroke-dashoffset="-2" fill="none" shape-rendering="crispEdges"/>
<path d="M441.5,969.5 V1122.5 M622.5,969.5 V1122.5 M803.5,969.5 V1122.5 M983.5,969.5 V1122.5 M1163.5,969.5 V1122.5 M1343.5,969.5 V1122.5 M1628.5,969.5 V1122.5" stroke="#000" stroke-width="1" stroke-dasharray="1 4" fill="none" shape-rendering="crispEdges"/>
<path d="M260.5,975.5 h8 M1810.5,975.5 h-8 M260.5,980.5 h8 M1810.5,980.5 h-8 M260.5,984.5 h8 M1810.5,984.5 h-8 M260.5,987.5 h8 M1810.5,987.5 h-8 M260.5,990.5 h8 M1810.5,990.5 h-8 M260.5,993.5 h8 M1810.5,993.5 h-8 M260.5,995.5 h16 M1810.5,995.5 h-16 M260.5,1010.5 h8 M1810.5,1010.5 h-8 M260.5,1019.5 h8 M1810.5,1019.5 h-8 M260.5,1026.5 h8 M1810.5,1026.5 h-8 M260.5,1031.5 h8 M1810.5,1031.5 h-8 M260.5,1035.5 h8 M1810.5,1035.5 h-8 M260.5,1038.5 h8 M1810.5,1038.5 h-8 M260.5,1041.5 h8 M1810.5,1041.5 h-8 M260.5,1044.5 h8 M1810.5,1044.5 h-8 M260.5,1046.5 h16 M1810.5,1046.5 h-16 M260.5,1061.5 h8 M1810.5,1061.5 h-8 M260.5,1070.5 h8 M1810.5,1070.5 h-8 M260.5,1077.5 h8 M1810.5,1077.5 h-8 M260.5,1082.5 h8 M1810.5,1082.5 h-8 M260.5,1086.5 h8 M1810.5,1086.5 h-8 M260.5,1089.5 h8 M1810.5,1089.5 h-8 M260.5,1092.5 h8 M1810.5,1092.5 h-8 M260.5,1095.5 h8 M1810.5,1095.5 h-8 M260.5,1097.5 h16 M1810.5,1097.5 h-16 M260.5,1112.5 h8 M1810.5,1112.5 h-8 M260.5,1121.5 h8 M1810.5,1121.5 h-8 M441.5,969.5 v15 M441.5,1122.5 v-15 M622.5,969.5 v15 M622.5,1122.5 v-15 M803.5,969.5 v15 M803.5,1122.5 v-15 M983.5,969.5 v15 M983.5,1122.5 v-15 M1163.5,969.5 v15 M1163.5,1122.5 v-15 M1343.5,969.5 v15 M1343.5,1122.5 v-15 M1628.5,969.5 v15 M1628.5,1122.5 v-15" stroke="#000" stroke-width="1" fill="none" shape-rendering="crispEdges"/>
<rect x="260.5" y="969.5" width="1550" height="153" stroke="#000" stroke-width="1" fill="none" shape-rendering="crispEdges"/>
<text x="204" y="1005" font-size="28">10</text>
<text x="236" y="986.5" font-size="18">-1</text>
<text x="204" y="1055.95" font-size="28">10</text>
<text x="237.5" y="1037.45" font-size="18">0</text>
<text x="204" y="1106.9" font-size="28">10</text>
<text x="237.5" y="1088.4" font-size="18">1</text>
<text transform="translate(185.5,1152) rotate(-90)" font-size="28" textLength="213.5" lengthAdjust="spacingAndGlyphs">Wavelength (km)</text>
<path d="M260.5,1309.5 H1810.5 M260.5,1244.5 H1810.5 M260.5,1179.5 H1810.5 M441.5,1133.5 V1355.5 M622.5,1133.5 V1355.5 M803.5,1133.5 V1355.5 M983.5,1133.5 V1355.5 M1163.5,1133.5 V1355.5 M1343.5,1133.5 V1355.5 M1628.5,1133.5 V1355.5 M1809.5,1133.5 V1355.5" stroke="#000" stroke-width="1" stroke-dasharray="1 4" fill="none" shape-rendering="crispEdges"/>
<path d="M260.5,1309.5 h16 M1810.5,1309.5 h-16 M260.5,1244.5 h16 M1810.5,1244.5 h-16 M260.5,1179.5 h16 M1810.5,1179.5 h-16 M441.5,1133.5 v16 M441.5,1355.5 v-16 M622.5,1133.5 v16 M622.5,1355.5 v-16 M803.5,1133.5 v16 M803.5,1355.5 v-16 M983.5,1133.5 v16 M983.5,1355.5 v-16 M1163.5,1133.5 v16 M1163.5,1355.5 v-16 M1343.5,1133.5 v16 M1343.5,1355.5 v-16 M1628.5,1133.5 v16 M1628.5,1355.5 v-16" stroke="#000" stroke-width="1" fill="none" shape-rendering="crispEdges"/>
<g clip-path="url(#mapclip)">
<clipPath id="mapclip"><rect x="260.5" y="1133.5" width="1550" height="222"/></clipPath>
<path d="M261.14,1245.1 L268.65,1245.1 L272.74,1247.42 L273.43,1250.83 L271.38,1252.88 L267.28,1253.56 L263.87,1252.2 L261.82,1249.47 L261.14,1245.1 M263.19,1251.52 L265.24,1256.29 L268.65,1257.66 L274.11,1254.93 L276.84,1255.61 L279.57,1258.34 L283.66,1254.25 L290.49,1250.83 L295.94,1252.2 L302.77,1254.93 L309.59,1256.98 L316.42,1259.7 L321.88,1263.12 L325.97,1267.21 L331.43,1268.58 L333.48,1270.62 L329.38,1273.35 L331.43,1276.76 L335.52,1279.49 L336.89,1283.59 L342.35,1286.32 L345.76,1289.05 L344.4,1291.1 L340.98,1290.41 L336.89,1289.05 L333.48,1287 L328.7,1282.22 L324.61,1278.13 L320.51,1276.08 L317.78,1276.08 L313.69,1279.49 L310.96,1284.27 L307.55,1283.59 L302.77,1280.86 L298.67,1278.81 L293.21,1279.49 L289.12,1279.49 L291.17,1276.08 L293.21,1271.31 L290.49,1264.48 L285.03,1263.12 L279.57,1262.43 L272.74,1259.02 L267.28,1256.98 M345.08,1255.61 L350.54,1257.66 L355.31,1261.07 L356.68,1263.8 L353.27,1265.85 L349.17,1268.58 L342.35,1270.62 L336.89,1271.31 L334.16,1269.26 L338.25,1267.89 L345.08,1267.21 L349.17,1264.48 L350.54,1261.75 L347.81,1259.02 L345.08,1255.61 M272.74,1268.58 L275.47,1267.89 L276.15,1271.31 L274.11,1274.04 L272.47,1272.67 L272.74,1268.58 M260.5,1293.83 L264.55,1296.55 L268.65,1293.83 L275.47,1295.87 L285.03,1297.92 L282.3,1302.7 L280.25,1308.84 L287.76,1314.98 L294.58,1319.07 L299.36,1322.49 L302.77,1319.07 L305.5,1309.52 L306.18,1299.97 L308.91,1291.1 L310.96,1291.1 L313,1298.6 L315.05,1305.43 L319.15,1308.16 L321.88,1310.89 L324.61,1321.8 L325.97,1327.26 L331.43,1329.99 L336.89,1334.09 L340.3,1340.91 L343.71,1345.01 L347.81,1349.1 L351.9,1355.24 M403.76,1333.4 L410.59,1338.18 L416.73,1342.96 L411.95,1342.28 L405.13,1336.82 L403.76,1333.4 M459.72,1320.44 L463.82,1319.76 L464.5,1323.17 L461.09,1323.85 L459.72,1320.44 M465.18,1318.39 L470.64,1315.66 M502.03,1302.01 L508.86,1304.74 M564.82,1149.15 L569.59,1151.2 L574.37,1153.25 L575.05,1157.34 L575.73,1161.44 M575.05,1155.98 L580.51,1158.03 L575.73,1161.44 L575.05,1155.98 M763.4,1134.14 L773.63,1144.38 M767.49,1134.14 L775,1140.97 M780.46,1134.14 L788.65,1141.65 L792.74,1147.11 L792.06,1152.57 L795.47,1159.39 L803.66,1164.85 L814.58,1170.31 L826.86,1174.4 L832.32,1175.77 L837.78,1173.04 L843.24,1175.77 L848.7,1181.23 L856.89,1183.96 L863.71,1186.69 L869.17,1188.05 L874.63,1193.51 L877.36,1197.61 L877.36,1201.7 L882.82,1205.79 L891.01,1209.89 L897.83,1212.62 L900.56,1209.89 L904.66,1203.75 L908.75,1205.79 L911.48,1208.52 L912.85,1215.35 L914.21,1222.17 L913.53,1229 L910.12,1233.09 L906.02,1237.19 L901.93,1241.28 L899.2,1245.37 L898.52,1250.83 L900.56,1254.93 L901.93,1257.66 L899.2,1260.39 L896.47,1263.12 L896.47,1268.58 L900.56,1272.67 L904.66,1276.76 L908.07,1282.22 L910.12,1289.05 L914.21,1298.6 L917.62,1305.43 L919.67,1309.52 L925.13,1313.61 L931.95,1317.71 L938.78,1321.8 L942.87,1325.9 L944.24,1332.72 L944.24,1343.64 L943.55,1351.83 L942.87,1355.24 M824.13,1134.14 L824.82,1144.38 L826.86,1151.2 L830.96,1158.03 L835.05,1162.12 L841.88,1164.17 L850.06,1162.8 L855.52,1160.76 L856.89,1153.93 L860.98,1150.52 L869.17,1149.15 L873.27,1149.15 L870.54,1159.39 L867.81,1168.94 L865.76,1174.4 L870.54,1175.09 L878.73,1174.4 L884.19,1175.09 L888.28,1178.5 L887.6,1188.05 L886.23,1197.61 L889.64,1201.7 L893.74,1204.43 L900.56,1205.11 L904.66,1203.06 L909.43,1204.43 L912.85,1207.84 L915.58,1209.89 L919.67,1204.43 L922.4,1198.97 L927.86,1196.24 L933.32,1193.51 L937.41,1190.78 L938.78,1192.15 L938.1,1198.97 L938.78,1204.43 L940.14,1196.24 L942.87,1192.15 L948.33,1191.46 L952.43,1197.61 L959.25,1198.97 L966.07,1198.97 L971.53,1197.61 L976.99,1198.29 L981.09,1198.97 L983.82,1204.43 L987.91,1207.16 L993.37,1209.89 L998.83,1216.71 L1007.02,1218.08 L1013.84,1219.44 L1019.3,1222.17 L1024.76,1227.63 L1027.49,1231.73 L1030.22,1237.19 L1031.59,1241.28 L1028.86,1245.37 L1027.49,1248.1 L1030.22,1246.74 L1035,1245.37 M1035,1245.37 L1040.46,1246.74 L1048.65,1248.79 L1055.47,1253.56 L1062.3,1255.61 L1073.21,1255.61 L1080.04,1259.02 L1086.86,1264.48 L1093.69,1266.53 L1096.42,1272.67 L1096.42,1279.49 L1093.69,1284.95 L1089.59,1290.41 L1084.13,1294.51 L1080.04,1299.97 L1078.67,1305.43 L1077.99,1313.61 L1076.63,1321.8 L1075.94,1328.63 L1073.21,1334.09 L1069.12,1340.91 L1062.3,1345.01 L1054.11,1349.1 L1045.92,1353.19 L1041.82,1355.24 M1181.72,1134.14 L1176.94,1141.65 L1172.85,1148.47 L1174.21,1155.3 L1176.94,1163.49 L1175.58,1171.67 L1172.16,1179.86 L1173.53,1186.69 L1175.58,1191.46 L1179.67,1193.51 L1182.4,1198.97 L1186.49,1201.7 L1189.22,1207.16 L1190.59,1209.89 L1196.05,1215.35 L1202.87,1220.81 L1209.7,1224.9 L1215.16,1226.27 L1220.61,1223.54 L1228.8,1220.81 L1232.9,1222.17 L1238.36,1223.54 L1243.82,1220.81 L1249.28,1219.44 L1256.1,1216.71 L1262.92,1216.03 L1267.02,1218.76 L1269.75,1223.54 L1273.84,1225.58 L1280.67,1225.58 L1284.76,1226.27 L1287.49,1231.73 L1288.17,1238.55 L1286.13,1242.64 L1285.44,1248.1 L1287.49,1253.56 L1291.59,1259.02 L1295,1263.12 M1295,1263.12 L1299.09,1267.21 L1302.51,1275.4 L1304.55,1282.22 L1303.19,1287.68 L1305.92,1293.14 L1304.55,1297.24 L1300.46,1302.7 L1297.73,1309.52 L1297.05,1317.71 L1297.73,1323.17 L1301.82,1331.36 L1307.28,1340.91 L1308.65,1349.1 L1309.33,1355.24 M1383.71,1244.01 L1390.54,1242.64 L1393.27,1245.37 L1392.58,1252.2 L1389.17,1254.93 L1383.71,1255.61 L1382.35,1250.83 L1384.4,1246.74 L1383.71,1244.01 M1302.51,1182.59 L1305.92,1183.96 L1312.06,1186.69 L1307.97,1190.1 L1304.55,1185.32 L1302.51,1182.59 M1397.36,1134.14 L1401.46,1141.65 L1405.55,1147.11 L1406.91,1155.3 L1411.01,1162.12 L1415.1,1167.58 L1417.83,1175.77 L1423.29,1179.86 L1428.75,1185.32 L1432.85,1189.42 L1432.85,1194.88 L1438.31,1198.97 L1445.13,1196.92 L1453.32,1194.88 L1461.51,1193.51 L1465.6,1192.15 L1466.97,1197.61 L1465.6,1204.43 L1462.87,1209.89 L1458.78,1215.35 L1456.05,1220.81 L1451.95,1226.27 L1445.13,1233.09 L1438.31,1237.19 L1431.48,1244.01 L1426.02,1249.47 L1420.56,1254.93 L1417.83,1261.75 L1415.1,1268.58 L1413.74,1271.31 L1416.47,1275.4 L1416.47,1280.86 L1419.2,1287.68 L1421.93,1291.78 L1421.93,1299.97 L1422.61,1309.52 L1419.2,1314.98 L1415.1,1317.71 L1409.64,1320.44 L1404.19,1325.9 L1398.73,1329.99 L1396,1332.72 L1398.04,1339.55 L1399.41,1346.37 L1398.73,1355.24 M1405.55,1134.14 L1411.01,1138.92 L1415.1,1145.74 L1416.47,1152.57 L1421.93,1158.03 L1426.02,1164.85 L1430.12,1171.67 L1431.48,1179.86 L1432.85,1188.05 L1435.58,1189.42 L1445.13,1186.69 L1451.95,1183.96 L1458.78,1179.86 L1465.6,1177.13 L1472.43,1173.04 L1479.25,1168.94 L1486.07,1166.21 L1491.53,1162.12 L1495.63,1156.66 L1499.72,1151.2 L1503.82,1145.74 L1501.09,1141.65 L1496.99,1138.92 L1490.17,1135.51 L1487.44,1134.14 M1466.97,1136.19 L1471.06,1138.24 L1476.52,1137.55 L1479.25,1135.51 L1484.71,1134.14 M1535.21,1134.14 L1540.67,1138.92 L1544.76,1144.38 L1546.13,1149.84 L1550.22,1152.57 L1555,1152.57 M1458.1,1296.55 L1462.87,1305.43 L1464.92,1309.52 L1462.87,1313.61 L1460.14,1319.07 L1457.41,1327.26 L1454.68,1335.45 L1451.95,1343.64 L1450.59,1351.83 L1449.91,1355.24 M1458.1,1296.55 L1453.32,1302.7 L1449.22,1309.52 L1442.4,1313.61 L1436.94,1316.34 L1434.89,1321.8 L1436.94,1328.63 L1435.58,1335.45 L1432.16,1342.28 L1432.85,1349.1 L1434.89,1355.24 M1555,1152.57 L1557.73,1145.74 L1559.09,1155.3 L1561.82,1168.94 L1564.55,1175.77 L1568.65,1185.32 L1572.74,1194.88 L1575.47,1203.06 L1579.57,1209.21 L1582.3,1207.16 L1586.39,1201.7 L1589.8,1197.61 L1590.49,1189.42 L1591.85,1182.59 L1590.49,1177.13 L1593.21,1174.4 L1600.04,1170.31 L1605.5,1164.85 L1612.32,1160.76 L1619.15,1156.66 L1621.88,1149.84 L1627.34,1149.15 L1634.16,1148.47 L1639.62,1144.38 L1642.35,1149.84 L1649.17,1156.66 L1652.58,1162.12 L1653.27,1174.4 L1658.73,1175.09 L1664.19,1170.99 L1666.91,1174.4 L1669.64,1183.96 L1671.69,1192.15 L1672.37,1198.97 L1671.01,1205.79 L1673.74,1212.62 L1677.83,1220.81 L1680.56,1229 L1684.66,1234.46 L1691.48,1237.19 L1695.58,1237.19 L1692.85,1231.73 L1690.12,1223.54 L1690.12,1220.81 L1686.02,1216.71 L1680.56,1212.62 L1675.1,1209.89 L1675.1,1204.43 L1675.1,1197.61 L1677.83,1186.69 L1681.93,1186.69 L1686.02,1190.78 L1690.12,1196.24 L1695.58,1200.34 L1699.67,1201.7 L1703.76,1198.97 L1710.59,1196.24 L1716.73,1193.51 L1717.41,1185.32 L1716.05,1178.5 L1711.95,1171.67 L1706.49,1166.21 L1702.4,1162.12 L1701.04,1159.39 L1705.13,1153.93 L1710.59,1149.84 L1714.68,1147.79 L1718.78,1149.15 L1721.51,1150.52 L1729.7,1147.11 L1736.52,1144.38 L1746.07,1141.65 L1752.9,1137.55 L1756.99,1134.14 M1714,1160.76 L1718.78,1156.66 L1724.24,1157.34 L1724.24,1160.76 L1720.14,1164.17 L1714.68,1163.49 L1714,1160.76 M1763.13,1140.28 L1767.91,1134.14 L1770.64,1136.19 L1769.28,1143.01 L1767.23,1146.43 L1763.82,1143.01 L1763.13,1140.28 M1656.68,1219.44 L1664.19,1220.13 L1668.28,1223.54 L1673.74,1227.63 L1679.2,1233.09 L1686.02,1235.82 L1691.48,1238.55 L1695.58,1245.37 L1699.67,1250.83 L1703.76,1254.93 L1705.13,1259.02 L1702.4,1263.12 L1702.4,1268.58 L1698.31,1267.89 L1692.85,1263.12 L1686.02,1257.66 L1680.56,1249.47 L1675.1,1241.28 L1671.01,1234.46 L1664.19,1229 L1658.73,1223.54 L1656.68,1219.44 M1701.04,1269.26 L1705.13,1268.58 L1713.32,1271.31 L1721.51,1273.35 L1732.43,1275.4 L1739.25,1276.76 L1746.07,1279.49 L1752.9,1280.86 L1756.99,1282.22 L1762.45,1281.54 L1756.99,1283.59 L1746.07,1282.91 L1732.43,1279.49 L1718.78,1277.45 L1707.86,1275.4 L1701.04,1272.67 L1701.04,1269.26 M1758.36,1282.22 L1773.37,1280.86 L1787.02,1279.49 L1795.21,1278.81 M1778.83,1289.05 L1787.02,1283.59 L1793.84,1279.49 M1759.72,1284.95 L1766.55,1286.32 L1765.18,1288.37 L1760.4,1287 L1759.72,1284.95 M1716.05,1237.19 L1721.51,1234.46 L1726.97,1230.36 L1735.16,1223.54 L1743.34,1218.08 L1750.17,1215.35 L1755.63,1219.44 L1759.72,1222.17 L1756.99,1227.63 L1755.63,1235.82 L1758.36,1239.91 L1754.26,1244.01 L1751.53,1250.83 L1747.44,1254.93 L1744.71,1260.39 L1739.25,1262.43 L1732.43,1259.7 L1725.6,1257.66 L1721.51,1256.98 L1718.78,1250.83 L1716.05,1245.37 L1716.05,1237.19 M1761.09,1244.01 L1767.91,1239.91 L1776.1,1238.55 L1784.29,1237.19 L1785.65,1239.91 L1780.19,1242.64 L1773.37,1242.64 L1767.91,1246.74 L1773.37,1248.1 L1778.83,1246.74 L1777.46,1249.47 L1769.28,1250.83 L1770.64,1254.93 L1773.37,1260.39 L1776.1,1268.58 L1773.37,1268.58 L1769.28,1261.75 L1766.55,1259.02 L1763.82,1264.48 L1762.45,1268.58 L1759.72,1267.21 L1761.09,1259.02 L1758.36,1253.56 L1761.09,1244.01 M1793.84,1235.82 L1797.94,1237.19 L1799.3,1241.28 L1796.57,1246.74 L1795.21,1250.83 L1793.84,1245.37 L1793.84,1235.82 M1799.3,1256.29 L1810.5,1256.98 M1799.3,1259.3 L1810.5,1260.39 M1590.49,1202.38 L1593.21,1202.38 L1597.31,1208.52 L1598.67,1215.35 L1594.58,1218.76 L1591.17,1218.08 L1589.8,1212.62 L1590.49,1202.38 M1733.79,1355.24 L1736.52,1349.1 L1736.52,1342.28 L1741.98,1338.18 L1748.8,1335.45 L1756.99,1334.09 L1765.18,1331.36 L1769.28,1328.63 L1772.01,1321.8 L1776.1,1319.07 L1781.56,1312.25 L1785.65,1308.16 L1789.75,1305.43 L1795.21,1305.43 L1800.67,1308.16 L1804.76,1308.16 L1807.49,1302.7 L1808.86,1297.24 L1810.5,1291.78 M880.5,1147.6 L883.2,1144.9 L887.6,1142.7 L894.2,1140.7 L900.8,1142.7 L908.5,1146 L915.1,1149.3 L922.3,1152.6 L927.2,1155.9 L927.2,1157 L919.5,1157 L915.7,1155.9 L911.8,1157 L908.5,1152 L901.9,1148.2 L895.9,1145.4 L890.9,1144.6 L888.2,1146.5 L889.3,1149.8 L886.5,1148.2 L880.5,1147.6 M929.9,1157 L933.8,1155.9 L940.4,1156.4 L945.9,1158.1 L949.8,1160.8 L953.1,1163 L950.9,1164.7 L947,1163.6 L941.5,1163.6 L938.8,1167.4 L936,1165.2 L930.5,1165.2 L925.6,1164.1 L927.8,1162.5 L933.3,1162.5 L932.2,1158.6 L929.9,1157 M908.5,1164.4 L912.4,1162.5 L916.8,1163.6 L918.4,1165.2 L915.7,1167.4 L911.8,1166.9 L908.5,1164.4 M956.4,1164.1 L959.1,1162.7 L964.1,1163 L964.6,1165.2 L959.1,1166.3 L956.4,1165.2 L956.4,1164.1 M1765.9,1162.9 L1773.4,1162.9 L1774.3,1169.5 L1772.4,1176.1 L1769.6,1179.9 L1771.5,1182.7 L1775.3,1182.7 L1780,1186.4 L1781.8,1190.2 L1776,1191 L1772,1188 L1768.7,1186.4 L1765.9,1180.8 L1764,1175 L1762.1,1169.5 L1765.9,1162.9 M1771.5,1190.2 L1780,1190.2 L1787.5,1191.1 L1788.4,1197.7 L1790.3,1205.3 L1787.5,1208.1 L1782.8,1207.1 L1778.1,1205.3 L1774.3,1201.5 L1771.5,1195.9 L1771.5,1190.2 M1775,1194 L1780,1197 L1786,1200 M1777,1201 L1783,1203 M1780,1213.7 L1786.5,1212.8 L1791.3,1214.7 L1789.4,1219.4 L1785.6,1220.3 L1780.9,1218.4 L1780,1213.7" stroke="#000" stroke-width="2.2" fill="none" stroke-linejoin="round"/>
<path d="M362,1267.48 L364.87,1270.21 L368.01,1272.4 M371.28,1273.76 L374.01,1275.67 M375.24,1277.17 L376.2,1280.31 M379.47,1277.04 L384.38,1279.49 M382.61,1285.23 L386.02,1286.59 L389.43,1287.68 M389.71,1280.86 L392.16,1286.32 L395.03,1291.23 M413.32,1308.16 L416.05,1312.25 L418.78,1317.03 M1371.43,1258.34 L1373.48,1265.85 L1376.89,1274.04 L1379.62,1282.22 M1392.58,1284.95 L1394.63,1294.51 L1396,1302.7 L1398.73,1307.47 M1475.16,1190.1 L1481.3,1190.1 M1761.77,1196.24 L1751.53,1207.16 M1646.44,1186.69 L1645.35,1192.83 M894.2,1134.4 L894.6,1136 M908.5,1134.4 L911,1136.5 L913.5,1139 M916.8,1134.4 L920,1135.5 L923.4,1137.2 M921.2,1139.9 L924.5,1143 L928.3,1146 M931,1144.9 L933.8,1146 M934.4,1147.6 L939.3,1148.2 M928.3,1151.5 L932.7,1152" stroke="#000" stroke-width="3" fill="none" stroke-linecap="round"/>
<circle cx="280.93" cy="1248.1" r="1.8" fill="#000"/>
<circle cx="329.38" cy="1252.88" r="1.8" fill="#000"/>
<circle cx="261.14" cy="1276.08" r="1.8" fill="#000"/>
<circle cx="555.94" cy="1147.11" r="1.8" fill="#000"/>
<circle cx="603.03" cy="1321.8" r="1.8" fill="#000"/>
<circle cx="981.09" cy="1173.72" r="1.8" fill="#000"/>
<circle cx="853.48" cy="1246.74" r="1.8" fill="#000"/>
<circle cx="937.41" cy="1203.06" r="1.8" fill="#000"/>
<circle cx="945.6" cy="1191.46" r="1.8" fill="#000"/>
<circle cx="979.72" cy="1199.65" r="1.8" fill="#000"/>
<circle cx="1037.05" cy="1248.1" r="1.8" fill="#000"/>
<circle cx="1485.39" cy="1336.82" r="1.8" fill="#000"/>
<circle cx="1494.26" cy="1332.72" r="1.8" fill="#000"/>
<circle cx="1660.09" cy="1233.09" r="1.8" fill="#000"/>
<circle cx="1666.91" cy="1239.91" r="1.8" fill="#000"/>
<circle cx="1673.06" cy="1250.83" r="1.8" fill="#000"/>
<circle cx="1711.27" cy="1256.29" r="1.8" fill="#000"/>
<circle cx="1772.01" cy="1213.98" r="1.8" fill="#000"/>
<circle cx="1791.11" cy="1259.02" r="1.8" fill="#000"/>
<circle cx="1783.61" cy="1251.52" r="1.8" fill="#000"/>
<path d="M260.5,1189.47 L262.5,1189.37 L264.5,1189.28 L266.5,1189.19 L268.5,1189.1 L270.5,1189.02 L272.5,1188.94 L274.5,1188.86 L276.5,1188.79 L278.5,1188.72 L280.5,1188.66 L282.5,1188.6 L284.5,1188.54 L286.5,1188.49 L288.5,1188.44 L290.5,1188.39 L292.5,1188.35 L294.5,1188.32 L296.5,1188.28 L298.5,1188.25 L300.5,1188.23 L302.5,1188.2 L304.5,1188.18 L306.5,1188.17 L308.5,1188.16 L310.5,1188.15 L312.5,1188.15 L314.5,1188.15 L316.5,1188.15 L318.5,1188.16 L320.5,1188.17 L322.5,1188.19 L324.5,1188.2 L326.5,1188.23 L328.5,1188.25 L330.5,1188.28 L332.5,1188.32 L334.5,1188.36 L336.5,1188.4 L338.5,1188.45 L340.5,1188.49 L342.5,1188.55 L344.5,1188.61 L346.5,1188.67 L348.5,1188.73 L350.5,1188.8 L352.5,1188.87 L354.5,1188.95 L356.5,1189.03 L358.5,1189.11 L360.5,1189.2 L362.5,1189.29 L364.5,1189.39 L366.5,1189.49 L368.5,1189.59 L370.5,1189.7 L372.5,1189.81 L374.5,1189.92 L376.5,1190.04 L378.5,1190.16 L380.5,1190.29 L382.5,1190.42 L384.5,1190.55 L386.5,1190.69 L388.5,1190.83 L390.5,1190.98 L392.5,1191.13 L394.5,1191.28 L396.5,1191.44 L398.5,1191.6 L400.5,1191.77 L402.5,1191.93 L404.5,1192.11 L406.5,1192.28 L408.5,1192.46 L410.5,1192.65 L412.5,1192.84 L414.5,1193.03 L416.5,1193.23 L418.5,1193.42 L420.5,1193.63 L422.5,1193.84 L424.5,1194.05 L426.5,1194.26 L428.5,1194.48 L430.5,1194.71 L432.5,1194.93 L434.5,1195.16 L436.5,1195.4 L438.5,1195.64 L440.5,1195.88 L442.5,1196.13 L444.5,1196.38 L446.5,1196.63 L448.5,1196.89 L450.5,1197.15 L452.5,1197.42 L454.5,1197.69 L456.5,1197.96 L458.5,1198.24 L460.5,1198.52 L462.5,1198.81 L464.5,1199.09 L466.5,1199.39 L468.5,1199.68 L470.5,1199.98 L472.5,1200.28 L474.5,1200.59 L476.5,1200.9 L478.5,1201.22 L480.5,1201.53 L482.5,1201.85 L484.5,1202.18 L486.5,1202.5 L488.5,1202.84 L490.5,1203.17 L492.5,1203.51 L494.5,1203.85 L496.5,1204.19 L498.5,1204.54 L500.5,1204.89 L502.5,1205.25 L504.5,1205.6 L506.5,1205.96 L508.5,1206.33 L510.5,1206.69 L512.5,1207.06 L514.5,1207.44 L516.5,1207.81 L518.5,1208.19 L520.5,1208.58 L522.5,1208.96 L524.5,1209.35 L526.5,1209.74 L528.5,1210.14 L530.5,1210.53 L532.5,1210.93 L534.5,1211.34 L536.5,1211.74 L538.5,1212.15 L540.5,1212.56 L542.5,1212.98 L544.5,1213.4 L546.5,1213.82 L548.5,1214.24 L550.5,1214.67 L552.5,1215.09 L554.5,1215.53 L556.5,1215.96 L558.5,1216.4 L560.5,1216.84 L562.5,1217.28 L564.5,1217.72 L566.5,1218.17 L568.5,1218.62 L570.5,1219.07 L572.5,1219.52 L574.5,1219.98 L576.5,1220.44 L578.5,1220.9 L580.5,1221.37 L582.5,1221.83 L584.5,1222.3 L586.5,1222.77 L588.5,1223.25 L590.5,1223.72 L592.5,1224.2 L594.5,1224.68 L596.5,1225.16 L598.5,1225.65 L600.5,1226.13 L602.5,1226.62 L604.5,1227.11 L606.5,1227.61 L608.5,1228.1 L610.5,1228.6 L612.5,1229.1 L614.5,1229.6 L616.5,1230.11 L618.5,1230.61 L620.5,1231.12 L622.5,1231.63 L624.5,1232.14 L626.5,1232.65 L628.5,1233.17 L630.5,1233.68 L632.5,1234.2 L634.5,1234.72 L636.5,1235.24 L638.5,1235.76 L640.5,1236.28 L642.5,1236.8 L644.5,1237.33 L646.5,1237.85 L648.5,1238.37 L650.5,1238.9 L652.5,1239.42 L654.5,1239.94 L656.5,1240.47 L658.5,1240.99 L660.5,1241.51 L662.5,1242.03 L664.5,1242.56 L666.5,1243.08 L668.5,1243.59 L670.5,1244.11 L672.5,1244.63 L674.5,1245.14 L676.5,1245.66 L678.5,1246.17 L680.5,1246.68 L682.5,1247.19 L684.5,1247.7 L686.5,1248.21 L688.5,1248.71 L690.5,1249.21 L692.5,1249.72 L694.5,1250.22 L696.5,1250.72 L698.5,1251.21 L700.5,1251.71 L702.5,1252.2 L704.5,1252.7 L706.5,1253.19 L708.5,1253.68 L710.5,1254.17 L712.5,1254.65 L714.5,1255.14 L716.5,1255.62 L718.5,1256.1 L720.5,1256.58 L722.5,1257.06 L724.5,1257.54 L726.5,1258.01 L728.5,1258.49 L730.5,1258.96 L732.5,1259.43 L734.5,1259.9 L736.5,1260.36 L738.5,1260.83 L740.5,1261.29 L742.5,1261.75 L744.5,1262.21 L746.5,1262.67 L748.5,1263.13 L750.5,1263.58 L752.5,1264.03 L754.5,1264.48 L756.5,1264.93 L758.5,1265.38 L760.5,1265.83 L762.5,1266.27 L764.5,1266.71 L766.5,1267.15 L768.5,1267.59 L770.5,1268.02 L772.5,1268.46 L774.5,1268.89 L776.5,1269.32 L778.5,1269.75 L780.5,1270.17 L782.5,1270.6 L784.5,1271.02 L786.5,1271.44 L788.5,1271.86 L790.5,1272.28 L792.5,1272.69 L794.5,1273.1 L796.5,1273.51 L798.5,1273.92 L800.5,1274.33 L802.5,1274.73 L804.5,1275.13 L806.5,1275.53 L808.5,1275.93 L810.5,1276.33 L812.5,1276.72 L814.5,1277.11 L816.5,1277.5 L818.5,1277.89 L820.5,1278.28 L822.5,1278.66 L824.5,1279.04 L826.5,1279.42 L828.5,1279.79 L830.5,1280.16 L832.5,1280.54 L834.5,1280.9 L836.5,1281.27 L838.5,1281.63 L840.5,1281.99 L842.5,1282.35 L844.5,1282.71 L846.5,1283.06 L848.5,1283.41 L850.5,1283.76 L852.5,1284.1 L854.5,1284.45 L856.5,1284.78 L858.5,1285.12 L860.5,1285.46 L862.5,1285.79 L864.5,1286.12 L866.5,1286.44 L868.5,1286.76 L870.5,1287.08 L872.5,1287.4 L874.5,1287.71 L876.5,1288.02 L878.5,1288.33 L880.5,1288.64 L882.5,1288.94 L884.5,1289.24 L886.5,1289.53 L888.5,1289.82 L890.5,1290.11 L892.5,1290.4 L894.5,1290.68 L896.5,1290.96 L898.5,1291.24 L900.5,1291.51 L902.5,1291.78 L904.5,1292.04 L906.5,1292.31 L908.5,1292.57 L910.5,1292.82 L912.5,1293.07 L914.5,1293.32 L916.5,1293.57 L918.5,1293.81 L920.5,1294.05 L922.5,1294.28 L924.5,1294.51 L926.5,1294.74 L928.5,1294.96 L930.5,1295.18 L932.5,1295.4 L934.5,1295.61 L936.5,1295.82 L938.5,1296.02 L940.5,1296.22 L942.5,1296.42 L944.5,1296.61 L946.5,1296.8 L948.5,1296.99 L950.5,1297.17 L952.5,1297.35 L954.5,1297.52 L956.5,1297.69 L958.5,1297.85 L960.5,1298.01 L962.5,1298.17 L964.5,1298.32 L966.5,1298.47 L968.5,1298.62 L970.5,1298.76 L972.5,1298.89 L974.5,1299.02 L976.5,1299.15 L978.5,1299.27 L980.5,1299.39 L982.5,1299.51 L984.5,1299.61 L986.5,1299.72 L988.5,1299.82 L990.5,1299.92 L992.5,1300.01 L994.5,1300.1 L996.5,1300.18 L998.5,1300.26 L1000.5,1300.33 L1002.5,1300.4 L1004.5,1300.47 L1006.5,1300.53 L1008.5,1300.59 L1010.5,1300.64 L1012.5,1300.69 L1014.5,1300.73 L1016.5,1300.77 L1018.5,1300.81 L1020.5,1300.84 L1022.5,1300.87 L1024.5,1300.89 L1026.5,1300.91 L1028.5,1300.92 L1030.5,1300.93 L1032.5,1300.94 L1034.5,1300.94 L1036.5,1300.94 L1038.5,1300.93 L1040.5,1300.92 L1042.5,1300.91 L1044.5,1300.89 L1046.5,1300.87 L1048.5,1300.84 L1050.5,1300.81 L1052.5,1300.77 L1054.5,1300.74 L1056.5,1300.69 L1058.5,1300.64 L1060.5,1300.59 L1062.5,1300.54 L1064.5,1300.48 L1066.5,1300.41 L1068.5,1300.34 L1070.5,1300.27 L1072.5,1300.2 L1074.5,1300.12 L1076.5,1300.03 L1078.5,1299.94 L1080.5,1299.85 L1082.5,1299.75 L1084.5,1299.65 L1086.5,1299.55 L1088.5,1299.44 L1090.5,1299.33 L1092.5,1299.21 L1094.5,1299.09 L1096.5,1298.97 L1098.5,1298.84 L1100.5,1298.7 L1102.5,1298.57 L1104.5,1298.43 L1106.5,1298.28 L1108.5,1298.14 L1110.5,1297.98 L1112.5,1297.83 L1114.5,1297.67 L1116.5,1297.5 L1118.5,1297.33 L1120.5,1297.16 L1122.5,1296.99 L1124.5,1296.81 L1126.5,1296.62 L1128.5,1296.44 L1130.5,1296.25 L1132.5,1296.05 L1134.5,1295.85 L1136.5,1295.65 L1138.5,1295.44 L1140.5,1295.23 L1142.5,1295.02 L1144.5,1294.8 L1146.5,1294.58 L1148.5,1294.35 L1150.5,1294.12 L1152.5,1293.89 L1154.5,1293.65 L1156.5,1293.41 L1158.5,1293.16 L1160.5,1292.92 L1162.5,1292.66 L1164.5,1292.41 L1166.5,1292.15 L1168.5,1291.88 L1170.5,1291.62 L1172.5,1291.35 L1174.5,1291.07 L1176.5,1290.79 L1178.5,1290.51 L1180.5,1290.23 L1182.5,1289.94 L1184.5,1289.64 L1186.5,1289.35 L1188.5,1289.05 L1190.5,1288.75 L1192.5,1288.44 L1194.5,1288.13 L1196.5,1287.82 L1198.5,1287.5 L1200.5,1287.18 L1202.5,1286.86 L1204.5,1286.53 L1206.5,1286.2 L1208.5,1285.87 L1210.5,1285.54 L1212.5,1285.2 L1214.5,1284.85 L1216.5,1284.51 L1218.5,1284.16 L1220.5,1283.81 L1222.5,1283.46 L1224.5,1283.1 L1226.5,1282.74 L1228.5,1282.38 L1230.5,1282.01 L1232.5,1281.64 L1234.5,1281.27 L1236.5,1280.89 L1238.5,1280.52 L1240.5,1280.14 L1242.5,1279.75 L1244.5,1279.37 L1246.5,1278.98 L1248.5,1278.59 L1250.5,1278.19 L1252.5,1277.8 L1254.5,1277.4 L1256.5,1276.99 L1258.5,1276.59 L1260.5,1276.18 L1262.5,1275.77 L1264.5,1275.36 L1266.5,1274.95 L1268.5,1274.53 L1270.5,1274.11 L1272.5,1273.69 L1274.5,1273.27 L1276.5,1272.84 L1278.5,1272.41 L1280.5,1271.98 L1282.5,1271.55 L1284.5,1271.11 L1286.5,1270.67 L1288.5,1270.23 L1290.5,1269.79 L1292.5,1269.35 L1294.5,1268.9 L1296.5,1268.45 L1298.5,1268 L1300.5,1267.55 L1302.5,1267.1 L1304.5,1266.64 L1306.5,1266.18 L1308.5,1265.72 L1310.5,1265.26 L1312.5,1264.79 L1314.5,1264.33 L1316.5,1263.86 L1318.5,1263.39 L1320.5,1262.92 L1322.5,1262.45 L1324.5,1261.97 L1326.5,1261.49 L1328.5,1261.02 L1330.5,1260.54 L1332.5,1260.05 L1334.5,1259.57 L1336.5,1259.09 L1338.5,1258.6 L1340.5,1258.11 L1342.5,1257.62 L1344.5,1257.13 L1346.5,1256.64 L1348.5,1256.15 L1350.5,1255.65 L1352.5,1255.15 L1354.5,1254.66 L1356.5,1254.16 L1358.5,1253.66 L1360.5,1253.16 L1362.5,1252.65 L1364.5,1252.15 L1366.5,1251.64 L1368.5,1251.14 L1370.5,1250.63 L1372.5,1250.12 L1374.5,1249.61 L1376.5,1249.1 L1378.5,1248.59 L1380.5,1248.07 L1382.5,1247.56 L1384.5,1247.05 L1386.5,1246.53 L1388.5,1246.01 L1390.5,1245.49 L1392.5,1244.98 L1394.5,1244.46 M1503,1244.07 L1505,1243.57 L1507,1243.07 L1509,1242.57 L1511,1242.07 L1513,1241.58 L1515,1241.08 L1517,1240.58 L1519,1240.08 L1521,1239.59 L1523,1239.09 L1525,1238.59 L1527,1238.1 L1529,1237.6 L1531,1237.11 L1533,1236.62 L1535,1236.12 L1537,1235.63 L1539,1235.14 L1541,1234.65 L1543,1234.16 L1545,1233.67 L1547,1233.18 L1549,1232.69 L1551,1232.21 L1553,1231.72 L1555,1231.24 L1557,1230.75 L1559,1230.27 L1561,1229.79 L1563,1229.31 L1565,1228.84 L1567,1228.36 L1569,1227.88 L1571,1227.41 L1573,1226.94 L1575,1226.47 L1577,1226 L1579,1225.53 L1581,1225.06 L1583,1224.6 L1585,1224.14 L1587,1223.68 L1589,1223.22 L1591,1222.76 L1593,1222.31 L1595,1221.85 L1597,1221.4 L1599,1220.95 L1601,1220.51 L1603,1220.06 L1605,1219.62 L1607,1219.18 L1609,1218.74 L1611,1218.31 L1613,1217.87 L1615,1217.44 L1617,1217.01 L1619,1216.59 L1621,1216.16 L1623,1215.74 L1625,1215.33 L1627,1214.91 L1629,1214.5 L1631,1214.09 L1633,1213.68 L1635,1213.28 L1637,1212.87 L1639,1212.48 L1641,1212.08 L1643,1211.69 L1645,1211.3 L1647,1210.91 L1649,1210.52 L1651,1210.14 L1653,1209.76 L1655,1209.39 L1657,1209.01 L1659,1208.64 L1661,1208.27 L1663,1207.91 L1665,1207.55 L1667,1207.19 L1669,1206.83 L1671,1206.48 L1673,1206.13 L1675,1205.78 L1677,1205.44 L1679,1205.1 L1681,1204.76 L1683,1204.42 L1685,1204.09 L1687,1203.76 L1689,1203.43 L1691,1203.11 L1693,1202.79 L1695,1202.47 L1697,1202.16 L1699,1201.85 L1701,1201.54 L1703,1201.23 L1705,1200.93 L1707,1200.63 L1709,1200.33 L1711,1200.04 L1713,1199.75 L1715,1199.46 L1717,1199.18 L1719,1198.9 L1721,1198.62 L1723,1198.34 L1725,1198.07 L1727,1197.8 L1729,1197.54 L1731,1197.27 L1733,1197.02 L1735,1196.76 L1737,1196.51 L1739,1196.26 L1741,1196.01 L1743,1195.77 L1745,1195.53 L1747,1195.29 L1749,1195.06 L1751,1194.82 L1753,1194.6 L1755,1194.37 L1757,1194.15 L1759,1193.93 L1761,1193.72 L1763,1193.51 L1765,1193.3 L1767,1193.1 L1769,1192.89 L1771,1192.7 L1773,1192.5 L1775,1192.31 L1777,1192.12 L1779,1191.94 L1781,1191.75 L1783,1191.58 L1785,1191.4 L1787,1191.23 L1789,1191.06 L1791,1190.9 L1793,1190.74 L1795,1190.58 L1797,1190.42 L1799,1190.27 L1801,1190.12 L1803,1189.98 L1805,1189.84 L1807,1189.7 L1809,1189.57" stroke="#cc1010" stroke-width="1.2" fill="none"/>
<path d="M260.5,1209.2 L278.44,1209.42 L300,1209.8 L314.28,1210.18 L329,1211.1 L349.57,1213.27 L372,1216 L393.18,1218.71 L415.9,1221.8 L443.24,1225.69 L471.2,1229.7 L496.18,1233.16 L520,1236.5 L541.11,1239.93 L566,1243.5 L603.44,1247.15 L645,1251.4 L684.51,1256.93 L724,1263.2 L764.44,1270.27 L802.9,1277.1 L835.97,1282.38 L866.1,1286.9 L896.22,1291.58 L921.4,1294.8 L933.99,1295.09 L945.1,1292.9 L967.12,1287.52 L988.5,1281 L998.41,1275.79 L1007,1270 L1023.63,1261.34 L1039.9,1253.4 L1048.05,1250.65 L1055.5,1248.1 L1067.99,1241.38 L1082.8,1233.1 L1099.85,1223.77 L1116.9,1215.3 L1130.97,1210.57 L1144.2,1207.2 L1158.71,1203.37 L1171.5,1200.3 L1177.44,1199 L1185.1,1198.3 L1203.89,1197.08 L1226.1,1196.2 L1247.36,1196.33 L1267,1196.9 L1280.99,1197.43 L1295,1198.3 L1314.69,1199.83 L1336,1201.7 L1355.17,1203.54 L1376.9,1205.8 L1408.03,1209.41 L1438.3,1212.6 L1456.62,1213.38 L1472.4,1213.3 L1492.43,1213.49 L1513.4,1213.3 L1535.06,1212.13 L1555,1211 L1568.86,1211.18 L1582.3,1211.3 L1600.37,1209.92 L1620.5,1208.5 L1642.18,1208.28 L1664.2,1208.5 L1685.67,1208.76 L1705.1,1209.2 L1718.74,1209.99 L1732.4,1210.6 L1752.32,1210.34 L1773.4,1209.9 L1794.26,1209.86 L1810,1209.9" stroke="#22ee22" stroke-width="5" fill="none" stroke-linejoin="round"/>
<path d="M728.5,1258.49 L738.25,1260.77 M742.25,1261.7 L752.25,1263.98 M756.25,1264.88 L766.25,1267.09 M770.25,1267.97 L780.25,1270.12 M784.25,1270.97 L794.25,1273.05 M798.25,1273.87 L808.25,1275.88 M812.25,1276.67 L822,1278.56 M826,1279.32 L836,1281.18 M840,1281.9 L850,1283.67 M854,1284.36 L864,1286.03 M868,1286.68 L878,1288.25 M882,1288.86 L892,1290.33 M896,1290.89 L905.75,1292.21 M909.75,1292.73 L919.75,1293.96 M923.75,1294.43 L933.75,1295.53 M937.75,1295.95 L947.75,1296.92 M951.75,1297.28 L961.75,1298.11 M965.75,1298.42 L975.75,1299.1 M979.75,1299.35 L989.5,1299.87 M993.5,1300.05 L1003.5,1300.44 M1007.5,1300.56 L1017.5,1300.79 M1021.5,1300.85 L1031.5,1300.94 M1035.5,1300.94 L1045.5,1300.88 M1049.5,1300.83 L1059.5,1300.62 M1063.5,1300.51 L1073.25,1300.17 M1077.25,1300 L1087.25,1299.51 M1091.25,1299.28 L1101.25,1298.65 M1105.25,1298.37 L1115.25,1297.61 M1119.25,1297.27 L1129.25,1296.36 M1133.25,1295.98 L1143.25,1294.93 M1147.25,1294.49 L1157.25,1293.32 M1161.25,1292.82 L1171,1291.55 M1175,1291 L1185,1289.57 M1189,1288.97 L1199,1287.42 M1203,1286.78 L1213,1285.11 M1217,1284.42 L1227,1282.65 M1231,1281.92 L1236.5,1280.89" stroke="#ee1010" stroke-width="12" fill="none"/>
<path d="M319.8,1177.1 L321.56,1182.17 L326.93,1182.28 L322.65,1185.53 L324.21,1190.67 L319.8,1187.6 L315.39,1190.67 L316.95,1185.53 L312.67,1182.28 L318.04,1182.17Z M416.7,1194.9 L418.46,1199.97 L423.83,1200.08 L419.55,1203.33 L421.11,1208.47 L416.7,1205.4 L412.29,1208.47 L413.85,1203.33 L409.57,1200.08 L414.94,1199.97Z M568.2,1227 L569.96,1232.07 L575.33,1232.18 L571.05,1235.43 L572.61,1240.57 L568.2,1237.5 L563.79,1240.57 L565.35,1235.43 L561.07,1232.18 L566.44,1232.07Z M914.9,1288.4 L916.66,1293.47 L922.03,1293.58 L917.75,1296.83 L919.31,1301.97 L914.9,1298.9 L910.49,1301.97 L912.05,1296.83 L907.77,1293.58 L913.14,1293.47Z M1056.2,1248.1 L1057.96,1253.17 L1063.33,1253.28 L1059.05,1256.53 L1060.61,1261.67 L1056.2,1258.6 L1051.79,1261.67 L1053.35,1256.53 L1049.07,1253.28 L1054.44,1253.17Z" stroke="#d020d0" stroke-width="1.2" fill="none"/>
</g>
<rect x="260.5" y="1133.5" width="1550" height="222" stroke="#000" stroke-width="1" fill="none" shape-rendering="crispEdges"/>
<text x="188" y="1193" font-size="28">15</text>
<text x="219" y="1179.5" font-size="22">o</text>
<text x="232" y="1193" font-size="28">N</text>
<text x="214.5" y="1258" font-size="28">0</text>
<text x="230" y="1244.5" font-size="22">o</text>
<text x="188" y="1323" font-size="28">15</text>
<text x="219" y="1309.5" font-size="22">o</text>
<text x="232" y="1323" font-size="28">S</text>
<text x="256" y="1402" font-size="28" text-anchor="middle">GLON</text>
<text x="441.2" y="1402" font-size="28" text-anchor="middle">173.1</text>
<text x="622" y="1402" font-size="28" text-anchor="middle">215.1</text>
<text x="802.8" y="1402" font-size="28" text-anchor="middle">257.0</text>
<text x="983.2" y="1402" font-size="28" text-anchor="middle">298.8</text>
<text x="1163.4" y="1402" font-size="28" text-anchor="middle">340.7</text>
<text x="1343.4" y="1402" font-size="28" text-anchor="middle">022.5</text>
<text x="1628.5" y="1402" font-size="28" text-anchor="middle">088.7</text>
<text x="1810" y="1402" font-size="28" text-anchor="middle">130.9</text>
<text x="256" y="1442.75" font-size="28" text-anchor="middle">GLAT</text>
<text x="441.2" y="1442.75" font-size="28" text-anchor="middle">+11.2</text>
<text x="622" y="1442.75" font-size="28" text-anchor="middle">+03.0</text>
<text x="802.8" y="1442.75" font-size="28" text-anchor="middle">-07.0</text>
<text x="983.2" y="1442.75" font-size="28" text-anchor="middle">-12.7</text>
<text x="1163.4" y="1442.75" font-size="28" text-anchor="middle">-11.1</text>
<text x="1343.4" y="1442.75" font-size="28" text-anchor="middle">-03.0</text>
<text x="1628.5" y="1442.75" font-size="28" text-anchor="middle">+06.9</text>
<text x="1810" y="1442.75" font-size="28" text-anchor="middle">+12.7</text>
<text x="256" y="1483.5" font-size="28" text-anchor="middle"> GALT</text>
<text x="441.2" y="1483.5" font-size="28" text-anchor="middle"> 431</text>
<text x="622" y="1483.5" font-size="28" text-anchor="middle"> 562</text>
<text x="802.8" y="1483.5" font-size="28" text-anchor="middle"> 735</text>
<text x="983.2" y="1483.5" font-size="28" text-anchor="middle"> 839</text>
<text x="1163.4" y="1483.5" font-size="28" text-anchor="middle"> 813</text>
<text x="1343.4" y="1483.5" font-size="28" text-anchor="middle"> 671</text>
<text x="1628.5" y="1483.5" font-size="28" text-anchor="middle"> 501</text>
<text x="1810" y="1483.5" font-size="28" text-anchor="middle"> 407</text>
<text x="256" y="1524.25" font-size="28" text-anchor="middle">MLON</text>
<text x="441.2" y="1524.25" font-size="28" text-anchor="middle">242.3</text>
<text x="622" y="1524.25" font-size="28" text-anchor="middle">285.2</text>
<text x="802.8" y="1524.25" font-size="28" text-anchor="middle">327.8</text>
<text x="983.2" y="1524.25" font-size="28" text-anchor="middle">009.2</text>
<text x="1163.4" y="1524.25" font-size="28" text-anchor="middle">049.4</text>
<text x="1343.4" y="1524.25" font-size="28" text-anchor="middle">093.2</text>
<text x="1628.5" y="1524.25" font-size="28" text-anchor="middle">160.0</text>
<text x="1810" y="1524.25" font-size="28" text-anchor="middle">201.3</text>
<text x="256" y="1565" font-size="28" text-anchor="middle">MLAT</text>
<text x="441.2" y="1565" font-size="28" text-anchor="middle">+07.0</text>
<text x="622" y="1565" font-size="28" text-anchor="middle">+05.6</text>
<text x="802.8" y="1565" font-size="28" text-anchor="middle">+01.0</text>
<text x="983.2" y="1565" font-size="28" text-anchor="middle">+00.7</text>
<text x="1163.4" y="1565" font-size="28" text-anchor="middle">-16.0</text>
<text x="1343.4" y="1565" font-size="28" text-anchor="middle">-15.1</text>
<text x="1628.5" y="1565" font-size="28" text-anchor="middle">-02.4</text>
<text x="1810" y="1565" font-size="28" text-anchor="middle">+04.8</text>
<text x="256" y="1605.75" font-size="28" text-anchor="middle">UT</text>
<text x="441.2" y="1605.75" font-size="28" text-anchor="middle">03:32</text>
<text x="622" y="1605.75" font-size="28" text-anchor="middle">03:43</text>
<text x="802.8" y="1605.75" font-size="28" text-anchor="middle">03:56</text>
<text x="983.2" y="1605.75" font-size="28" text-anchor="middle">04:09</text>
<text x="1163.4" y="1605.75" font-size="28" text-anchor="middle">04:21</text>
<text x="1343.4" y="1605.75" font-size="28" text-anchor="middle">04:34</text>
<text x="1628.5" y="1605.75" font-size="28" text-anchor="middle">03:09</text>
<text x="1810" y="1605.75" font-size="28" text-anchor="middle">03:21</text>
<text x="256" y="1646.5" font-size="28" text-anchor="middle">SLT </text>
<text x="441.2" y="1646.5" font-size="28" text-anchor="middle">15:00</text>
<text x="622" y="1646.5" font-size="28" text-anchor="middle">18:00</text>
<text x="802.8" y="1646.5" font-size="28" text-anchor="middle">21:00</text>
<text x="983.2" y="1646.5" font-size="28" text-anchor="middle">00:00</text>
<text x="1163.4" y="1646.5" font-size="28" text-anchor="middle">03:00</text>
<text x="1343.4" y="1646.5" font-size="28" text-anchor="middle">06:00</text>
<text x="1628.5" y="1646.5" font-size="28" text-anchor="middle">09:00</text>
<text x="1810" y="1646.5" font-size="28" text-anchor="middle">12:00</text>
<text transform="translate(1900,1665.5) rotate(-90)" font-size="22" textLength="394.5" lengthAdjust="spacingAndGlyphs">Preliminary corrected calibration,  2/11/09</text>
<text transform="translate(1925,1665.5) rotate(-90)" font-size="22" textLength="310" lengthAdjust="spacingAndGlyphs">Produced 02-Apr-2009 17:42:00</text>
</svg></body></html>
